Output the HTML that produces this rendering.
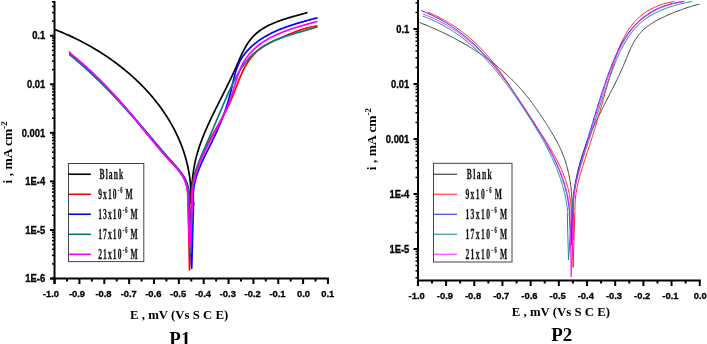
<!DOCTYPE html>
<html><head><meta charset="utf-8"><style>
html,body{margin:0;padding:0;background:#fff;width:707px;height:344px;overflow:hidden}
svg{display:block;will-change:transform}
</style></head><body>
<svg width="707" height="344" viewBox="0 0 707 344">
<rect x="0" y="0" width="707" height="344" fill="#fff"/>
<line x1="54.50" y1="1.00" x2="54.50" y2="284.00" stroke="#000" stroke-width="2"/>
<line x1="50.50" y1="278.50" x2="328.90" y2="278.50" stroke="#000" stroke-width="2"/>
<line x1="50.00" y1="35.75" x2="54.50" y2="35.75" stroke="#000" stroke-width="2"/>
<line x1="52.00" y1="21.13" x2="54.50" y2="21.13" stroke="#000" stroke-width="1.5"/>
<line x1="52.00" y1="12.59" x2="54.50" y2="12.59" stroke="#000" stroke-width="1.5"/>
<line x1="52.00" y1="6.52" x2="54.50" y2="6.52" stroke="#000" stroke-width="1.5"/>
<line x1="52.00" y1="1.82" x2="54.50" y2="1.82" stroke="#000" stroke-width="1.5"/>
<line x1="50.00" y1="84.30" x2="54.50" y2="84.30" stroke="#000" stroke-width="2"/>
<line x1="52.00" y1="69.68" x2="54.50" y2="69.68" stroke="#000" stroke-width="1.5"/>
<line x1="52.00" y1="61.14" x2="54.50" y2="61.14" stroke="#000" stroke-width="1.5"/>
<line x1="52.00" y1="55.07" x2="54.50" y2="55.07" stroke="#000" stroke-width="1.5"/>
<line x1="52.00" y1="50.37" x2="54.50" y2="50.37" stroke="#000" stroke-width="1.5"/>
<line x1="52.00" y1="46.52" x2="54.50" y2="46.52" stroke="#000" stroke-width="1.5"/>
<line x1="52.00" y1="43.27" x2="54.50" y2="43.27" stroke="#000" stroke-width="1.5"/>
<line x1="52.00" y1="40.45" x2="54.50" y2="40.45" stroke="#000" stroke-width="1.5"/>
<line x1="52.00" y1="37.97" x2="54.50" y2="37.97" stroke="#000" stroke-width="1.5"/>
<line x1="50.00" y1="132.85" x2="54.50" y2="132.85" stroke="#000" stroke-width="2"/>
<line x1="52.00" y1="118.23" x2="54.50" y2="118.23" stroke="#000" stroke-width="1.5"/>
<line x1="52.00" y1="109.69" x2="54.50" y2="109.69" stroke="#000" stroke-width="1.5"/>
<line x1="52.00" y1="103.62" x2="54.50" y2="103.62" stroke="#000" stroke-width="1.5"/>
<line x1="52.00" y1="98.92" x2="54.50" y2="98.92" stroke="#000" stroke-width="1.5"/>
<line x1="52.00" y1="95.07" x2="54.50" y2="95.07" stroke="#000" stroke-width="1.5"/>
<line x1="52.00" y1="91.82" x2="54.50" y2="91.82" stroke="#000" stroke-width="1.5"/>
<line x1="52.00" y1="89.00" x2="54.50" y2="89.00" stroke="#000" stroke-width="1.5"/>
<line x1="52.00" y1="86.52" x2="54.50" y2="86.52" stroke="#000" stroke-width="1.5"/>
<line x1="50.00" y1="181.40" x2="54.50" y2="181.40" stroke="#000" stroke-width="2"/>
<line x1="52.00" y1="166.78" x2="54.50" y2="166.78" stroke="#000" stroke-width="1.5"/>
<line x1="52.00" y1="158.24" x2="54.50" y2="158.24" stroke="#000" stroke-width="1.5"/>
<line x1="52.00" y1="152.17" x2="54.50" y2="152.17" stroke="#000" stroke-width="1.5"/>
<line x1="52.00" y1="147.47" x2="54.50" y2="147.47" stroke="#000" stroke-width="1.5"/>
<line x1="52.00" y1="143.62" x2="54.50" y2="143.62" stroke="#000" stroke-width="1.5"/>
<line x1="52.00" y1="140.37" x2="54.50" y2="140.37" stroke="#000" stroke-width="1.5"/>
<line x1="52.00" y1="137.55" x2="54.50" y2="137.55" stroke="#000" stroke-width="1.5"/>
<line x1="52.00" y1="135.07" x2="54.50" y2="135.07" stroke="#000" stroke-width="1.5"/>
<line x1="50.00" y1="229.95" x2="54.50" y2="229.95" stroke="#000" stroke-width="2"/>
<line x1="52.00" y1="215.33" x2="54.50" y2="215.33" stroke="#000" stroke-width="1.5"/>
<line x1="52.00" y1="206.79" x2="54.50" y2="206.79" stroke="#000" stroke-width="1.5"/>
<line x1="52.00" y1="200.72" x2="54.50" y2="200.72" stroke="#000" stroke-width="1.5"/>
<line x1="52.00" y1="196.02" x2="54.50" y2="196.02" stroke="#000" stroke-width="1.5"/>
<line x1="52.00" y1="192.17" x2="54.50" y2="192.17" stroke="#000" stroke-width="1.5"/>
<line x1="52.00" y1="188.92" x2="54.50" y2="188.92" stroke="#000" stroke-width="1.5"/>
<line x1="52.00" y1="186.10" x2="54.50" y2="186.10" stroke="#000" stroke-width="1.5"/>
<line x1="52.00" y1="183.62" x2="54.50" y2="183.62" stroke="#000" stroke-width="1.5"/>
<line x1="50.00" y1="278.50" x2="54.50" y2="278.50" stroke="#000" stroke-width="2"/>
<line x1="52.00" y1="263.88" x2="54.50" y2="263.88" stroke="#000" stroke-width="1.5"/>
<line x1="52.00" y1="255.34" x2="54.50" y2="255.34" stroke="#000" stroke-width="1.5"/>
<line x1="52.00" y1="249.27" x2="54.50" y2="249.27" stroke="#000" stroke-width="1.5"/>
<line x1="52.00" y1="244.57" x2="54.50" y2="244.57" stroke="#000" stroke-width="1.5"/>
<line x1="52.00" y1="240.72" x2="54.50" y2="240.72" stroke="#000" stroke-width="1.5"/>
<line x1="52.00" y1="237.47" x2="54.50" y2="237.47" stroke="#000" stroke-width="1.5"/>
<line x1="52.00" y1="234.65" x2="54.50" y2="234.65" stroke="#000" stroke-width="1.5"/>
<line x1="52.00" y1="232.17" x2="54.50" y2="232.17" stroke="#000" stroke-width="1.5"/>
<line x1="54.60" y1="278.50" x2="54.60" y2="284.00" stroke="#000" stroke-width="2"/>
<line x1="67.03" y1="278.50" x2="67.03" y2="281.50" stroke="#000" stroke-width="2"/>
<line x1="79.45" y1="278.50" x2="79.45" y2="284.00" stroke="#000" stroke-width="2"/>
<line x1="91.88" y1="278.50" x2="91.88" y2="281.50" stroke="#000" stroke-width="2"/>
<line x1="104.30" y1="278.50" x2="104.30" y2="284.00" stroke="#000" stroke-width="2"/>
<line x1="116.73" y1="278.50" x2="116.73" y2="281.50" stroke="#000" stroke-width="2"/>
<line x1="129.15" y1="278.50" x2="129.15" y2="284.00" stroke="#000" stroke-width="2"/>
<line x1="141.58" y1="278.50" x2="141.58" y2="281.50" stroke="#000" stroke-width="2"/>
<line x1="154.00" y1="278.50" x2="154.00" y2="284.00" stroke="#000" stroke-width="2"/>
<line x1="166.43" y1="278.50" x2="166.43" y2="281.50" stroke="#000" stroke-width="2"/>
<line x1="178.85" y1="278.50" x2="178.85" y2="284.00" stroke="#000" stroke-width="2"/>
<line x1="191.28" y1="278.50" x2="191.28" y2="281.50" stroke="#000" stroke-width="2"/>
<line x1="203.70" y1="278.50" x2="203.70" y2="284.00" stroke="#000" stroke-width="2"/>
<line x1="216.13" y1="278.50" x2="216.13" y2="281.50" stroke="#000" stroke-width="2"/>
<line x1="228.55" y1="278.50" x2="228.55" y2="284.00" stroke="#000" stroke-width="2"/>
<line x1="240.98" y1="278.50" x2="240.98" y2="281.50" stroke="#000" stroke-width="2"/>
<line x1="253.40" y1="278.50" x2="253.40" y2="284.00" stroke="#000" stroke-width="2"/>
<line x1="265.82" y1="278.50" x2="265.82" y2="281.50" stroke="#000" stroke-width="2"/>
<line x1="278.25" y1="278.50" x2="278.25" y2="284.00" stroke="#000" stroke-width="2"/>
<line x1="290.68" y1="278.50" x2="290.68" y2="281.50" stroke="#000" stroke-width="2"/>
<line x1="303.10" y1="278.50" x2="303.10" y2="284.00" stroke="#000" stroke-width="2"/>
<line x1="315.53" y1="278.50" x2="315.53" y2="281.50" stroke="#000" stroke-width="2"/>
<line x1="327.95" y1="278.50" x2="327.95" y2="284.00" stroke="#000" stroke-width="2"/>
<line x1="418.00" y1="0.00" x2="418.00" y2="285.70" stroke="#000" stroke-width="2"/>
<line x1="417.00" y1="280.50" x2="700.80" y2="280.50" stroke="#000" stroke-width="2"/>
<line x1="413.50" y1="29.00" x2="418.00" y2="29.00" stroke="#000" stroke-width="2"/>
<line x1="415.50" y1="12.44" x2="418.00" y2="12.44" stroke="#000" stroke-width="1.5"/>
<line x1="415.50" y1="2.76" x2="418.00" y2="2.76" stroke="#000" stroke-width="1.5"/>
<line x1="413.50" y1="84.00" x2="418.00" y2="84.00" stroke="#000" stroke-width="2"/>
<line x1="415.50" y1="67.44" x2="418.00" y2="67.44" stroke="#000" stroke-width="1.5"/>
<line x1="415.50" y1="57.76" x2="418.00" y2="57.76" stroke="#000" stroke-width="1.5"/>
<line x1="415.50" y1="50.89" x2="418.00" y2="50.89" stroke="#000" stroke-width="1.5"/>
<line x1="415.50" y1="45.56" x2="418.00" y2="45.56" stroke="#000" stroke-width="1.5"/>
<line x1="415.50" y1="41.20" x2="418.00" y2="41.20" stroke="#000" stroke-width="1.5"/>
<line x1="415.50" y1="37.52" x2="418.00" y2="37.52" stroke="#000" stroke-width="1.5"/>
<line x1="415.50" y1="34.33" x2="418.00" y2="34.33" stroke="#000" stroke-width="1.5"/>
<line x1="415.50" y1="31.52" x2="418.00" y2="31.52" stroke="#000" stroke-width="1.5"/>
<line x1="413.50" y1="139.00" x2="418.00" y2="139.00" stroke="#000" stroke-width="2"/>
<line x1="415.50" y1="122.44" x2="418.00" y2="122.44" stroke="#000" stroke-width="1.5"/>
<line x1="415.50" y1="112.76" x2="418.00" y2="112.76" stroke="#000" stroke-width="1.5"/>
<line x1="415.50" y1="105.89" x2="418.00" y2="105.89" stroke="#000" stroke-width="1.5"/>
<line x1="415.50" y1="100.56" x2="418.00" y2="100.56" stroke="#000" stroke-width="1.5"/>
<line x1="415.50" y1="96.20" x2="418.00" y2="96.20" stroke="#000" stroke-width="1.5"/>
<line x1="415.50" y1="92.52" x2="418.00" y2="92.52" stroke="#000" stroke-width="1.5"/>
<line x1="415.50" y1="89.33" x2="418.00" y2="89.33" stroke="#000" stroke-width="1.5"/>
<line x1="415.50" y1="86.52" x2="418.00" y2="86.52" stroke="#000" stroke-width="1.5"/>
<line x1="413.50" y1="194.00" x2="418.00" y2="194.00" stroke="#000" stroke-width="2"/>
<line x1="415.50" y1="177.44" x2="418.00" y2="177.44" stroke="#000" stroke-width="1.5"/>
<line x1="415.50" y1="167.76" x2="418.00" y2="167.76" stroke="#000" stroke-width="1.5"/>
<line x1="415.50" y1="160.89" x2="418.00" y2="160.89" stroke="#000" stroke-width="1.5"/>
<line x1="415.50" y1="155.56" x2="418.00" y2="155.56" stroke="#000" stroke-width="1.5"/>
<line x1="415.50" y1="151.20" x2="418.00" y2="151.20" stroke="#000" stroke-width="1.5"/>
<line x1="415.50" y1="147.52" x2="418.00" y2="147.52" stroke="#000" stroke-width="1.5"/>
<line x1="415.50" y1="144.33" x2="418.00" y2="144.33" stroke="#000" stroke-width="1.5"/>
<line x1="415.50" y1="141.52" x2="418.00" y2="141.52" stroke="#000" stroke-width="1.5"/>
<line x1="413.50" y1="249.00" x2="418.00" y2="249.00" stroke="#000" stroke-width="2"/>
<line x1="415.50" y1="232.44" x2="418.00" y2="232.44" stroke="#000" stroke-width="1.5"/>
<line x1="415.50" y1="222.76" x2="418.00" y2="222.76" stroke="#000" stroke-width="1.5"/>
<line x1="415.50" y1="215.89" x2="418.00" y2="215.89" stroke="#000" stroke-width="1.5"/>
<line x1="415.50" y1="210.56" x2="418.00" y2="210.56" stroke="#000" stroke-width="1.5"/>
<line x1="415.50" y1="206.20" x2="418.00" y2="206.20" stroke="#000" stroke-width="1.5"/>
<line x1="415.50" y1="202.52" x2="418.00" y2="202.52" stroke="#000" stroke-width="1.5"/>
<line x1="415.50" y1="199.33" x2="418.00" y2="199.33" stroke="#000" stroke-width="1.5"/>
<line x1="415.50" y1="196.52" x2="418.00" y2="196.52" stroke="#000" stroke-width="1.5"/>
<line x1="415.50" y1="277.76" x2="418.00" y2="277.76" stroke="#000" stroke-width="1.5"/>
<line x1="415.50" y1="270.89" x2="418.00" y2="270.89" stroke="#000" stroke-width="1.5"/>
<line x1="415.50" y1="265.56" x2="418.00" y2="265.56" stroke="#000" stroke-width="1.5"/>
<line x1="415.50" y1="261.20" x2="418.00" y2="261.20" stroke="#000" stroke-width="1.5"/>
<line x1="415.50" y1="257.52" x2="418.00" y2="257.52" stroke="#000" stroke-width="1.5"/>
<line x1="415.50" y1="254.33" x2="418.00" y2="254.33" stroke="#000" stroke-width="1.5"/>
<line x1="415.50" y1="251.52" x2="418.00" y2="251.52" stroke="#000" stroke-width="1.5"/>
<line x1="417.90" y1="280.50" x2="417.90" y2="286.00" stroke="#000" stroke-width="2"/>
<line x1="431.99" y1="280.50" x2="431.99" y2="283.50" stroke="#000" stroke-width="2"/>
<line x1="446.08" y1="280.50" x2="446.08" y2="286.00" stroke="#000" stroke-width="2"/>
<line x1="460.18" y1="280.50" x2="460.18" y2="283.50" stroke="#000" stroke-width="2"/>
<line x1="474.27" y1="280.50" x2="474.27" y2="286.00" stroke="#000" stroke-width="2"/>
<line x1="488.36" y1="280.50" x2="488.36" y2="283.50" stroke="#000" stroke-width="2"/>
<line x1="502.45" y1="280.50" x2="502.45" y2="286.00" stroke="#000" stroke-width="2"/>
<line x1="516.55" y1="280.50" x2="516.55" y2="283.50" stroke="#000" stroke-width="2"/>
<line x1="530.64" y1="280.50" x2="530.64" y2="286.00" stroke="#000" stroke-width="2"/>
<line x1="544.73" y1="280.50" x2="544.73" y2="283.50" stroke="#000" stroke-width="2"/>
<line x1="558.82" y1="280.50" x2="558.82" y2="286.00" stroke="#000" stroke-width="2"/>
<line x1="572.92" y1="280.50" x2="572.92" y2="283.50" stroke="#000" stroke-width="2"/>
<line x1="587.01" y1="280.50" x2="587.01" y2="286.00" stroke="#000" stroke-width="2"/>
<line x1="601.10" y1="280.50" x2="601.10" y2="283.50" stroke="#000" stroke-width="2"/>
<line x1="615.19" y1="280.50" x2="615.19" y2="286.00" stroke="#000" stroke-width="2"/>
<line x1="629.29" y1="280.50" x2="629.29" y2="283.50" stroke="#000" stroke-width="2"/>
<line x1="643.38" y1="280.50" x2="643.38" y2="286.00" stroke="#000" stroke-width="2"/>
<line x1="657.47" y1="280.50" x2="657.47" y2="283.50" stroke="#000" stroke-width="2"/>
<line x1="671.56" y1="280.50" x2="671.56" y2="286.00" stroke="#000" stroke-width="2"/>
<line x1="685.66" y1="280.50" x2="685.66" y2="283.50" stroke="#000" stroke-width="2"/>
<line x1="699.75" y1="280.50" x2="699.75" y2="286.00" stroke="#000" stroke-width="2"/>
<text transform="translate(45.2,39.45) scale(0.1,0.11200000000000002)" font-size="94.0" text-anchor="end" font-family="'Liberation Sans', sans-serif" font-weight="bold" stroke="#000" stroke-width="3">0.1</text>
<text transform="translate(45.2,88.0) scale(0.1,0.11200000000000002)" font-size="94.0" text-anchor="end" font-family="'Liberation Sans', sans-serif" font-weight="bold" stroke="#000" stroke-width="3">0.01</text>
<text transform="translate(45.2,136.54999999999998) scale(0.1,0.11200000000000002)" font-size="94.0" text-anchor="end" font-family="'Liberation Sans', sans-serif" font-weight="bold" stroke="#000" stroke-width="3">0.001</text>
<text transform="translate(45.2,185.09999999999997) scale(0.1,0.11200000000000002)" font-size="94.0" text-anchor="end" font-family="'Liberation Sans', sans-serif" font-weight="bold" stroke="#000" stroke-width="3">1E-4</text>
<text transform="translate(45.2,233.64999999999998) scale(0.1,0.11200000000000002)" font-size="94.0" text-anchor="end" font-family="'Liberation Sans', sans-serif" font-weight="bold" stroke="#000" stroke-width="3">1E-5</text>
<text transform="translate(45.2,282.2) scale(0.1,0.11200000000000002)" font-size="94.0" text-anchor="end" font-family="'Liberation Sans', sans-serif" font-weight="bold" stroke="#000" stroke-width="3">1E-6</text>
<text transform="translate(409.3,32.7) scale(0.1,0.11200000000000002)" font-size="94.0" text-anchor="end" font-family="'Liberation Sans', sans-serif" font-weight="bold" stroke="#000" stroke-width="3">0.1</text>
<text transform="translate(409.3,87.7) scale(0.1,0.11200000000000002)" font-size="94.0" text-anchor="end" font-family="'Liberation Sans', sans-serif" font-weight="bold" stroke="#000" stroke-width="3">0.01</text>
<text transform="translate(409.3,142.7) scale(0.1,0.11200000000000002)" font-size="94.0" text-anchor="end" font-family="'Liberation Sans', sans-serif" font-weight="bold" stroke="#000" stroke-width="3">0.001</text>
<text transform="translate(409.3,197.7) scale(0.1,0.11200000000000002)" font-size="94.0" text-anchor="end" font-family="'Liberation Sans', sans-serif" font-weight="bold" stroke="#000" stroke-width="3">1E-4</text>
<text transform="translate(409.3,252.7) scale(0.1,0.11200000000000002)" font-size="94.0" text-anchor="end" font-family="'Liberation Sans', sans-serif" font-weight="bold" stroke="#000" stroke-width="3">1E-5</text>
<text transform="translate(51,297.1) scale(0.1,0.10200000000000001)" font-size="94.0" text-anchor="middle" font-family="'Liberation Sans', sans-serif" font-weight="bold" stroke="#000" stroke-width="3">-1.0</text>
<text transform="translate(77,297.1) scale(0.1,0.10200000000000001)" font-size="94.0" text-anchor="middle" font-family="'Liberation Sans', sans-serif" font-weight="bold" stroke="#000" stroke-width="3">-0.9</text>
<text transform="translate(103.5,297.1) scale(0.1,0.10200000000000001)" font-size="94.0" text-anchor="middle" font-family="'Liberation Sans', sans-serif" font-weight="bold" stroke="#000" stroke-width="3">-0.8</text>
<text transform="translate(128.75,297.1) scale(0.1,0.10200000000000001)" font-size="94.0" text-anchor="middle" font-family="'Liberation Sans', sans-serif" font-weight="bold" stroke="#000" stroke-width="3">-0.7</text>
<text transform="translate(153.3,297.1) scale(0.1,0.10200000000000001)" font-size="94.0" text-anchor="middle" font-family="'Liberation Sans', sans-serif" font-weight="bold" stroke="#000" stroke-width="3">-0.6</text>
<text transform="translate(178.1,297.1) scale(0.1,0.10200000000000001)" font-size="94.0" text-anchor="middle" font-family="'Liberation Sans', sans-serif" font-weight="bold" stroke="#000" stroke-width="3">-0.5</text>
<text transform="translate(203,297.1) scale(0.1,0.10200000000000001)" font-size="94.0" text-anchor="middle" font-family="'Liberation Sans', sans-serif" font-weight="bold" stroke="#000" stroke-width="3">-0.4</text>
<text transform="translate(227.8,297.1) scale(0.1,0.10200000000000001)" font-size="94.0" text-anchor="middle" font-family="'Liberation Sans', sans-serif" font-weight="bold" stroke="#000" stroke-width="3">-0.3</text>
<text transform="translate(252.6,297.1) scale(0.1,0.10200000000000001)" font-size="94.0" text-anchor="middle" font-family="'Liberation Sans', sans-serif" font-weight="bold" stroke="#000" stroke-width="3">-0.2</text>
<text transform="translate(277.5,297.1) scale(0.1,0.10200000000000001)" font-size="94.0" text-anchor="middle" font-family="'Liberation Sans', sans-serif" font-weight="bold" stroke="#000" stroke-width="3">-0.1</text>
<text transform="translate(303.5,297.1) scale(0.1,0.10200000000000001)" font-size="94.0" text-anchor="middle" font-family="'Liberation Sans', sans-serif" font-weight="bold" stroke="#000" stroke-width="3">0.0</text>
<text transform="translate(327.8,297.1) scale(0.1,0.10200000000000001)" font-size="94.0" text-anchor="middle" font-family="'Liberation Sans', sans-serif" font-weight="bold" stroke="#000" stroke-width="3">0.1</text>
<text transform="translate(416.7,298.7) scale(0.1,0.10400000000000001)" font-size="94.0" text-anchor="middle" font-family="'Liberation Sans', sans-serif" font-weight="bold" stroke="#000" stroke-width="3">-1.0</text>
<text transform="translate(444.885,298.7) scale(0.1,0.10400000000000001)" font-size="94.0" text-anchor="middle" font-family="'Liberation Sans', sans-serif" font-weight="bold" stroke="#000" stroke-width="3">-0.9</text>
<text transform="translate(473.07,298.7) scale(0.1,0.10400000000000001)" font-size="94.0" text-anchor="middle" font-family="'Liberation Sans', sans-serif" font-weight="bold" stroke="#000" stroke-width="3">-0.8</text>
<text transform="translate(501.255,298.7) scale(0.1,0.10400000000000001)" font-size="94.0" text-anchor="middle" font-family="'Liberation Sans', sans-serif" font-weight="bold" stroke="#000" stroke-width="3">-0.7</text>
<text transform="translate(529.4399999999999,298.7) scale(0.1,0.10400000000000001)" font-size="94.0" text-anchor="middle" font-family="'Liberation Sans', sans-serif" font-weight="bold" stroke="#000" stroke-width="3">-0.6</text>
<text transform="translate(557.6249999999999,298.7) scale(0.1,0.10400000000000001)" font-size="94.0" text-anchor="middle" font-family="'Liberation Sans', sans-serif" font-weight="bold" stroke="#000" stroke-width="3">-0.5</text>
<text transform="translate(585.81,298.7) scale(0.1,0.10400000000000001)" font-size="94.0" text-anchor="middle" font-family="'Liberation Sans', sans-serif" font-weight="bold" stroke="#000" stroke-width="3">-0.4</text>
<text transform="translate(613.9949999999999,298.7) scale(0.1,0.10400000000000001)" font-size="94.0" text-anchor="middle" font-family="'Liberation Sans', sans-serif" font-weight="bold" stroke="#000" stroke-width="3">-0.3</text>
<text transform="translate(642.18,298.7) scale(0.1,0.10400000000000001)" font-size="94.0" text-anchor="middle" font-family="'Liberation Sans', sans-serif" font-weight="bold" stroke="#000" stroke-width="3">-0.2</text>
<text transform="translate(670.3649999999999,298.7) scale(0.1,0.10400000000000001)" font-size="94.0" text-anchor="middle" font-family="'Liberation Sans', sans-serif" font-weight="bold" stroke="#000" stroke-width="3">-0.1</text>
<text transform="translate(700.25,298.7) scale(0.1,0.10400000000000001)" font-size="94.0" text-anchor="middle" font-family="'Liberation Sans', sans-serif" font-weight="bold" stroke="#000" stroke-width="3">0.0</text>
<text transform="translate(11.5,152.3) rotate(-90)" font-size="13.5" text-anchor="middle" font-family="'Liberation Serif', serif" font-weight="bold">i , mA cm<tspan dy="-5" font-size="9">-2</tspan></text>
<text transform="translate(376.0,139) rotate(-90)" font-size="13.5" text-anchor="middle" font-family="'Liberation Serif', serif" font-weight="bold">i , mA cm<tspan dy="-5" font-size="9">-2</tspan></text>
<text x="130.0" y="318.7" font-size="12.8" font-family="'Liberation Serif', serif" font-weight="bold">E , mV (Vs S C E)</text>
<text x="511.8" y="315.8" font-size="12.8" font-family="'Liberation Serif', serif" font-weight="bold">E , mV (Vs S C E)</text>
<text x="179.9" y="344.5" font-size="19" text-anchor="middle" font-family="'Liberation Serif', serif" font-weight="bold" >P1</text>
<text x="561.8" y="340.9" font-size="19" text-anchor="middle" font-family="'Liberation Serif', serif" font-weight="bold" >P2</text>
<rect x="68.5" y="163.5" width="75.30000000000001" height="98.10000000000002" fill="none" stroke="#444" stroke-width="1"/>
<line x1="68.50" y1="174.25" x2="90.90" y2="174.25" stroke="#000000" stroke-width="1.6"/>
<text transform="translate(99.5,179.25) scale(0.55,1)" font-size="13.8" letter-spacing="2.0" font-family="'Liberation Serif', serif" font-weight="bold" fill="#111" stroke="#111" stroke-width="0.25">Blank</text>
<line x1="68.50" y1="194.25" x2="90.90" y2="194.25" stroke="#ff0000" stroke-width="1.6"/>
<text transform="translate(98.2,199.25) scale(0.55,1)" font-size="13.8" letter-spacing="2.0" font-family="'Liberation Serif', serif" font-weight="bold" fill="#111" stroke="#111" stroke-width="0.25">9x10<tspan dy="-6" font-size="8">-6</tspan><tspan dy="6" dx="3.5">M</tspan></text>
<line x1="68.50" y1="214.25" x2="90.90" y2="214.25" stroke="#0000ff" stroke-width="1.6"/>
<text transform="translate(98.2,219.25) scale(0.55,1)" font-size="13.8" letter-spacing="2.0" font-family="'Liberation Serif', serif" font-weight="bold" fill="#111" stroke="#111" stroke-width="0.25">13x10<tspan dy="-6" font-size="8">-6</tspan><tspan dy="6" dx="3.5">M</tspan></text>
<line x1="68.50" y1="234.25" x2="90.90" y2="234.25" stroke="#008080" stroke-width="1.6"/>
<text transform="translate(98.2,239.25) scale(0.55,1)" font-size="13.8" letter-spacing="2.0" font-family="'Liberation Serif', serif" font-weight="bold" fill="#111" stroke="#111" stroke-width="0.25">17x10<tspan dy="-6" font-size="8">-6</tspan><tspan dy="6" dx="3.5">M</tspan></text>
<line x1="68.50" y1="254.25" x2="90.90" y2="254.25" stroke="#ff00ff" stroke-width="1.6"/>
<text transform="translate(98.2,259.25) scale(0.55,1)" font-size="13.8" letter-spacing="2.0" font-family="'Liberation Serif', serif" font-weight="bold" fill="#111" stroke="#111" stroke-width="0.25">21x10<tspan dy="-6" font-size="8">-6</tspan><tspan dy="6" dx="3.5">M</tspan></text>
<rect x="433.5" y="163.3" width="78.5" height="98.69999999999999" fill="none" stroke="#444" stroke-width="1"/>
<line x1="433.50" y1="174.25" x2="457.00" y2="174.25" stroke="#333333" stroke-width="1.1"/>
<text transform="translate(466.7,179.25) scale(0.55,1)" font-size="13.8" letter-spacing="2.6" font-family="'Liberation Serif', serif" font-weight="bold" fill="#111" stroke="#111" stroke-width="0.25">Blank</text>
<line x1="433.50" y1="194.25" x2="457.00" y2="194.25" stroke="#ff3030" stroke-width="1.1"/>
<text transform="translate(465.4,199.25) scale(0.55,1)" font-size="13.8" letter-spacing="2.6" font-family="'Liberation Serif', serif" font-weight="bold" fill="#111" stroke="#111" stroke-width="0.25">9x10<tspan dy="-6" font-size="8">-6</tspan><tspan dy="6" dx="3.5">M</tspan></text>
<line x1="433.50" y1="214.25" x2="457.00" y2="214.25" stroke="#3030ff" stroke-width="1.1"/>
<text transform="translate(465.4,219.25) scale(0.55,1)" font-size="13.8" letter-spacing="2.6" font-family="'Liberation Serif', serif" font-weight="bold" fill="#111" stroke="#111" stroke-width="0.25">13x10<tspan dy="-6" font-size="8">-6</tspan><tspan dy="6" dx="3.5">M</tspan></text>
<line x1="433.50" y1="234.25" x2="457.00" y2="234.25" stroke="#209090" stroke-width="1.1"/>
<text transform="translate(465.4,239.25) scale(0.55,1)" font-size="13.8" letter-spacing="2.6" font-family="'Liberation Serif', serif" font-weight="bold" fill="#111" stroke="#111" stroke-width="0.25">17x10<tspan dy="-6" font-size="8">-6</tspan><tspan dy="6" dx="3.5">M</tspan></text>
<line x1="433.50" y1="254.25" x2="457.00" y2="254.25" stroke="#ff30ff" stroke-width="1.1"/>
<text transform="translate(465.4,259.25) scale(0.55,1)" font-size="13.8" letter-spacing="2.6" font-family="'Liberation Serif', serif" font-weight="bold" fill="#111" stroke="#111" stroke-width="0.25">21x10<tspan dy="-6" font-size="8">-6</tspan><tspan dy="6" dx="3.5">M</tspan></text>
<path d="M55.00,29.40 L56.35,30.15 L57.44,30.58 L58.53,31.01 L59.62,31.45 L60.72,31.89 L61.81,32.34 L62.90,32.80 L63.99,33.26 L65.07,33.72 L66.16,34.19 L67.25,34.67 L68.33,35.15 L69.42,35.64 L70.50,36.14 L71.58,36.64 L72.67,37.14 L73.75,37.65 L74.83,38.17 L75.90,38.69 L76.98,39.22 L78.05,39.75 L79.13,40.29 L80.20,40.84 L81.27,41.39 L82.34,41.94 L83.41,42.50 L84.47,43.07 L85.53,43.64 L86.59,44.22 L87.65,44.80 L88.71,45.39 L89.77,45.98 L90.82,46.58 L91.87,47.18 L92.92,47.79 L93.96,48.41 L95.01,49.03 L96.05,49.65 L97.09,50.28 L98.12,50.92 L99.16,51.56 L100.19,52.21 L101.22,52.86 L102.24,53.52 L103.26,54.18 L104.28,54.84 L105.30,55.52 L106.31,56.19 L107.33,56.88 L108.33,57.57 L109.34,58.26 L110.34,58.96 L111.34,59.66 L112.33,60.37 L113.32,61.08 L114.31,61.80 L115.29,62.53 L116.27,63.25 L117.25,63.99 L118.22,64.73 L119.19,65.47 L120.16,66.22 L121.12,66.97 L122.07,67.73 L123.03,68.50 L123.98,69.26 L124.92,70.04 L125.86,70.82 L126.80,71.60 L127.73,72.39 L128.66,73.18 L129.58,73.98 L130.50,74.78 L131.42,75.59 L132.33,76.40 L133.23,77.22 L134.13,78.04 L135.03,78.87 L135.92,79.70 L136.80,80.53 L137.68,81.38 L138.56,82.22 L139.43,83.07 L140.30,83.93 L141.16,84.79 L142.01,85.65 L142.86,86.52 L143.71,87.39 L144.55,88.27 L145.38,89.15 L146.21,90.04 L147.03,90.93 L147.85,91.83 L148.66,92.73 L149.46,93.64 L150.26,94.55 L151.06,95.46 L151.85,96.38 L152.63,97.31 L153.40,98.24 L154.17,99.17 L154.94,100.11 L155.69,101.05 L156.44,101.99 L157.19,102.94 L157.93,103.90 L158.66,104.86 L159.38,105.82 L160.10,106.79 L160.81,107.76 L161.52,108.74 L162.22,109.72 L162.91,110.70 L163.59,111.69 L164.27,112.69 L164.94,113.69 L165.60,114.69 L166.26,115.70 L166.91,116.71 L167.55,117.72 L168.19,118.74 L168.81,119.76 L169.43,120.79 L170.04,121.82 L170.65,122.86 L171.25,123.90 L171.84,124.94 L172.42,125.99 L172.99,127.04 L173.56,128.10 L174.12,129.16 L174.67,130.23 L175.21,131.29 L175.75,132.37 L176.27,133.44 L176.79,134.52 L177.30,135.61 L177.80,136.70 L178.29,137.79 L178.78,138.89 L179.26,139.99 L179.72,141.09 L180.18,142.20 L180.63,143.31 L181.08,144.43 L181.51,145.55 L181.93,146.67 L182.35,147.80 L182.76,148.93 L183.15,150.06 L183.54,151.20 L183.92,152.35 L184.29,153.49 L184.65,154.64 L185.00,155.80 L185.35,156.95 L185.68,158.12 L186.00,159.28 L186.32,160.45 L186.62,161.62 L186.92,162.80 L187.20,163.98 L187.48,165.16 L187.74,166.35 L188.00,167.54 L188.24,168.73 L188.48,169.93 L188.71,171.13 L188.92,172.34 L189.13,173.54 L189.32,174.76 L189.51,175.97 L189.68,177.19 L189.85,178.41 L190.00,179.64 L190.14,180.87 L190.28,182.10 L190.40,183.34 L190.51,184.58 L190.61,185.82 L190.70,187.07 L190.78,188.32 L190.85,189.57 L190.90,190.83 L190.95,192.09 L190.70,193.00 L191.00,203.00 L191.20,193.00 L191.25,191.81 L191.36,190.62 L191.48,189.42 L191.59,188.23 L191.70,187.03 L191.82,185.83 L191.93,184.63 L192.05,183.42 L192.16,182.22 L192.29,181.01 L192.41,179.81 L192.54,178.60 L192.67,177.40 L192.81,176.19 L192.96,174.99 L193.11,173.79 L193.27,172.58 L193.44,171.38 L193.61,170.18 L193.80,168.98 L193.99,167.79 L194.20,166.60 L194.41,165.41 L194.64,164.22 L194.88,163.04 L195.13,161.85 L195.39,160.68 L195.66,159.50 L195.95,158.33 L196.24,157.16 L196.54,156.00 L196.86,154.83 L197.18,153.68 L197.52,152.52 L197.86,151.36 L198.21,150.21 L198.58,149.06 L198.95,147.92 L199.32,146.78 L199.71,145.64 L200.11,144.50 L200.51,143.36 L200.92,142.23 L201.34,141.10 L201.76,139.97 L202.19,138.85 L202.63,137.72 L203.07,136.60 L203.52,135.49 L203.98,134.37 L204.44,133.26 L204.91,132.15 L205.38,131.04 L205.86,129.93 L206.34,128.83 L206.82,127.72 L207.31,126.62 L207.81,125.52 L208.30,124.43 L208.80,123.33 L209.31,122.24 L209.82,121.15 L210.33,120.06 L210.84,118.97 L211.35,117.89 L211.87,116.81 L212.39,115.72 L212.91,114.64 L213.44,113.56 L213.96,112.48 L214.49,111.41 L215.02,110.33 L215.55,109.25 L216.09,108.18 L216.62,107.10 L217.16,106.03 L217.69,104.96 L218.23,103.89 L218.77,102.81 L219.31,101.74 L219.84,100.67 L220.38,99.60 L220.92,98.53 L221.46,97.45 L222.00,96.38 L222.54,95.31 L223.08,94.24 L223.62,93.16 L224.16,92.09 L224.70,91.01 L225.24,89.94 L225.77,88.86 L226.31,87.78 L226.84,86.71 L227.38,85.63 L227.91,84.55 L228.44,83.46 L228.97,82.38 L229.49,81.29 L230.02,80.21 L230.54,79.12 L231.06,78.03 L231.58,76.94 L232.10,75.84 L232.61,74.74 L233.12,73.65 L233.63,72.54 L234.13,71.44 L234.63,70.34 L235.13,69.23 L235.63,68.12 L236.12,67.00 L236.61,65.89 L237.10,64.77 L237.58,63.65 L238.07,62.53 L238.56,61.41 L239.04,60.30 L239.53,59.18 L240.03,58.07 L240.53,56.96 L241.03,55.86 L241.54,54.76 L242.06,53.67 L242.58,52.58 L243.12,51.51 L243.66,50.44 L244.22,49.38 L244.78,48.33 L245.36,47.29 L245.96,46.26 L246.56,45.25 L247.19,44.24 L247.83,43.26 L248.48,42.28 L249.16,41.32 L249.85,40.38 L250.57,39.45 L251.30,38.54 L252.06,37.65 L252.84,36.78 L253.65,35.93 L254.48,35.10 L255.33,34.29 L256.21,33.50 L257.11,32.74 L258.04,31.99 L258.99,31.26 L259.96,30.56 L260.95,29.87 L261.95,29.20 L262.98,28.55 L264.02,27.92 L265.08,27.30 L266.16,26.70 L267.24,26.12 L268.34,25.56 L269.46,25.01 L270.58,24.47 L271.71,23.95 L272.85,23.45 L274.00,22.96 L275.16,22.48 L276.32,22.02 L277.48,21.57 L278.65,21.13 L279.83,20.70 L281.00,20.29 L282.18,19.89 L283.35,19.50 L284.52,19.11 L285.69,18.74 L286.86,18.38 L288.03,18.03 L289.19,17.68 L290.35,17.34 L291.51,17.01 L292.67,16.68 L293.82,16.36 L294.97,16.04 L296.11,15.72 L297.25,15.41 L298.39,15.09 L299.52,14.78 L300.65,14.47 L301.78,14.16 L302.89,13.85 L304.01,13.53 L305.12,13.21 L306.22,12.89 L307.50,12.50" fill="none" stroke="#000" stroke-width="1.7" stroke-linejoin="round" stroke-linecap="butt"/>
<path d="M69.80,52.20 L69.91,53.60 L70.86,54.36 L71.80,55.12 L72.73,55.88 L73.66,56.65 L74.59,57.42 L75.52,58.19 L76.45,58.96 L77.37,59.74 L78.29,60.53 L79.20,61.31 L80.12,62.10 L81.03,62.89 L81.94,63.68 L82.84,64.48 L83.74,65.28 L84.64,66.08 L85.54,66.89 L86.43,67.69 L87.33,68.50 L88.22,69.32 L89.10,70.13 L89.99,70.95 L90.87,71.77 L91.75,72.60 L92.63,73.42 L93.50,74.25 L94.37,75.09 L95.24,75.92 L96.11,76.76 L96.97,77.60 L97.84,78.44 L98.70,79.28 L99.55,80.13 L100.41,80.98 L101.26,81.83 L102.11,82.68 L102.96,83.54 L103.81,84.40 L104.65,85.26 L105.49,86.12 L106.33,86.99 L107.17,87.85 L108.00,88.72 L108.84,89.59 L109.67,90.47 L110.50,91.34 L111.32,92.22 L112.15,93.10 L112.97,93.98 L113.79,94.87 L114.61,95.75 L115.42,96.64 L116.24,97.53 L117.05,98.42 L117.86,99.31 L118.67,100.21 L119.48,101.11 L120.28,102.01 L121.08,102.91 L121.88,103.81 L122.68,104.71 L123.48,105.62 L124.28,106.53 L125.07,107.44 L125.86,108.35 L126.65,109.26 L127.44,110.17 L128.23,111.09 L129.01,112.01 L129.80,112.92 L130.58,113.84 L131.36,114.76 L132.14,115.69 L132.91,116.61 L133.69,117.54 L134.46,118.46 L135.23,119.39 L136.00,120.32 L136.77,121.25 L137.54,122.18 L138.31,123.12 L139.07,124.05 L139.84,124.98 L140.60,125.92 L141.37,126.85 L142.13,127.79 L142.89,128.72 L143.66,129.66 L144.42,130.60 L145.18,131.53 L145.94,132.47 L146.71,133.41 L147.47,134.34 L148.23,135.28 L149.00,136.22 L149.76,137.15 L150.52,138.09 L151.29,139.02 L152.06,139.95 L152.82,140.89 L153.59,141.82 L154.36,142.75 L155.13,143.68 L155.90,144.61 L156.68,145.53 L157.45,146.46 L158.23,147.38 L159.01,148.31 L159.79,149.23 L160.57,150.15 L161.36,151.06 L162.15,151.98 L162.94,152.89 L163.73,153.81 L164.52,154.71 L165.32,155.62 L166.12,156.53 L166.93,157.43 L167.73,158.33 L168.54,159.23 L169.36,160.12 L170.17,161.01 L170.99,161.90 L171.82,162.79 L172.64,163.67 L173.46,164.56 L174.28,165.44 L175.09,166.33 L175.90,167.22 L176.69,168.12 L177.48,169.03 L178.24,169.94 L178.99,170.87 L179.72,171.80 L180.43,172.75 L181.12,173.71 L181.78,174.68 L182.41,175.67 L183.02,176.68 L183.59,177.71 L184.12,178.76 L184.62,179.82 L185.08,180.91 L185.51,182.02 L185.90,183.15 L186.26,184.30 L186.59,185.46 L186.88,186.63 L187.15,187.82 L187.38,189.02 L187.58,190.24 L187.76,191.46 L187.90,192.69 L188.02,193.93 L188.12,195.18 L188.18,196.43 L188.23,197.69 L188.24,198.95 L188.24,200.21 L188.21,201.48 L188.17,202.74 L188.10,204.00 L188.01,205.26 L188.20,206.30 L189.50,270.00 L191.25,206.00 L191.38,205.06 L191.30,203.76 L191.23,202.46 L191.19,201.17 L191.16,199.89 L191.15,198.61 L191.17,197.35 L191.20,196.09 L191.25,194.84 L191.32,193.59 L191.40,192.35 L191.51,191.12 L191.63,189.90 L191.77,188.68 L191.92,187.47 L192.09,186.27 L192.28,185.07 L192.48,183.87 L192.70,182.69 L192.93,181.51 L193.18,180.33 L193.44,179.16 L193.72,178.00 L194.01,176.84 L194.31,175.68 L194.63,174.53 L194.96,173.39 L195.31,172.25 L195.66,171.12 L196.03,169.99 L196.41,168.86 L196.80,167.74 L197.20,166.62 L197.61,165.51 L198.04,164.40 L198.47,163.29 L198.91,162.19 L199.37,161.09 L199.83,159.99 L200.30,158.90 L200.78,157.81 L201.27,156.73 L201.76,155.64 L202.27,154.56 L202.78,153.48 L203.30,152.41 L203.82,151.33 L204.35,150.26 L204.89,149.19 L205.44,148.13 L205.99,147.06 L206.54,146.00 L207.10,144.93 L207.66,143.87 L208.23,142.81 L208.81,141.76 L209.38,140.70 L209.96,139.64 L210.55,138.59 L211.13,137.53 L211.72,136.47 L212.31,135.42 L212.90,134.37 L213.50,133.31 L214.09,132.26 L214.69,131.20 L215.29,130.15 L215.88,129.09 L216.48,128.04 L217.08,126.98 L217.68,125.93 L218.27,124.87 L218.87,123.81 L219.46,122.75 L220.05,121.69 L220.64,120.62 L221.23,119.56 L221.81,118.49 L222.39,117.43 L222.97,116.36 L223.55,115.28 L224.12,114.21 L224.68,113.13 L225.24,112.05 L225.80,110.97 L226.35,109.89 L226.90,108.80 L227.44,107.71 L227.97,106.62 L228.50,105.52 L229.02,104.42 L229.53,103.32 L230.04,102.21 L230.54,101.10 L231.03,99.98 L231.51,98.86 L231.99,97.74 L232.46,96.61 L232.92,95.49 L233.37,94.35 L233.82,93.22 L234.27,92.08 L234.71,90.95 L235.15,89.81 L235.59,88.68 L236.02,87.54 L236.46,86.41 L236.89,85.27 L237.33,84.14 L237.77,83.01 L238.21,81.89 L238.65,80.77 L239.10,79.65 L239.55,78.53 L240.01,77.43 L240.47,76.32 L240.94,75.23 L241.42,74.13 L241.91,73.05 L242.41,71.98 L242.91,70.91 L243.43,69.85 L243.96,68.80 L244.50,67.76 L245.06,66.72 L245.63,65.70 L246.21,64.69 L246.81,63.70 L247.42,62.71 L248.05,61.74 L248.70,60.78 L249.37,59.83 L250.06,58.89 L250.76,57.98 L251.49,57.07 L252.24,56.18 L253.01,55.31 L253.80,54.45 L254.62,53.61 L255.46,52.79 L256.33,51.99 L257.22,51.20 L258.14,50.44 L259.08,49.69 L260.05,48.96 L261.04,48.24 L262.05,47.55 L263.08,46.86 L264.13,46.20 L265.20,45.55 L266.28,44.91 L267.37,44.29 L268.48,43.68 L269.59,43.08 L270.72,42.49 L271.86,41.92 L273.00,41.36 L274.14,40.80 L275.30,40.26 L276.45,39.73 L277.60,39.20 L278.76,38.69 L279.91,38.18 L281.06,37.68 L282.20,37.18 L283.34,36.69 L284.47,36.21 L285.60,35.73 L286.71,35.25 L287.82,34.79 L288.93,34.33 L290.03,33.87 L291.13,33.42 L292.22,32.98 L293.31,32.55 L294.41,32.13 L295.50,31.71 L296.59,31.30 L297.69,30.90 L298.79,30.52 L299.89,30.14 L301.00,29.77 L302.11,29.41 L303.22,29.06 L304.35,28.73 L305.48,28.40 L306.62,28.09 L307.77,27.79 L308.93,27.50 L310.11,27.23 L311.29,26.97 L312.49,26.72 L313.70,26.49 L314.93,26.27 L316.17,26.07 L317.50,25.90" fill="none" stroke="#ff0000" stroke-width="1.7" stroke-linejoin="round" stroke-linecap="butt"/>
<path d="M69.90,52.70 L70.03,54.09 L70.97,54.85 L71.91,55.62 L72.84,56.39 L73.77,57.16 L74.70,57.94 L75.63,58.71 L76.55,59.50 L77.47,60.28 L78.39,61.07 L79.31,61.86 L80.22,62.65 L81.13,63.44 L82.04,64.24 L82.95,65.04 L83.85,65.84 L84.75,66.65 L85.65,67.46 L86.55,68.27 L87.44,69.08 L88.33,69.90 L89.22,70.72 L90.11,71.54 L90.99,72.36 L91.88,73.18 L92.76,74.01 L93.64,74.84 L94.51,75.67 L95.39,76.51 L96.26,77.35 L97.13,78.19 L97.99,79.03 L98.86,79.87 L99.72,80.72 L100.58,81.56 L101.44,82.41 L102.30,83.27 L103.15,84.12 L104.01,84.98 L104.86,85.84 L105.71,86.70 L106.56,87.56 L107.40,88.42 L108.24,89.29 L109.09,90.16 L109.93,91.03 L110.76,91.90 L111.60,92.77 L112.43,93.65 L113.27,94.53 L114.10,95.41 L114.93,96.29 L115.75,97.17 L116.58,98.05 L117.40,98.94 L118.22,99.83 L119.04,100.72 L119.86,101.61 L120.68,102.50 L121.50,103.40 L122.31,104.29 L123.12,105.19 L123.93,106.09 L124.74,106.99 L125.55,107.89 L126.36,108.79 L127.16,109.70 L127.96,110.60 L128.77,111.51 L129.57,112.42 L130.37,113.33 L131.16,114.24 L131.96,115.15 L132.76,116.06 L133.55,116.98 L134.34,117.89 L135.13,118.81 L135.92,119.73 L136.71,120.65 L137.50,121.57 L138.29,122.49 L139.07,123.41 L139.86,124.33 L140.64,125.26 L141.42,126.18 L142.21,127.11 L142.99,128.03 L143.77,128.96 L144.55,129.88 L145.33,130.81 L146.11,131.74 L146.89,132.66 L147.67,133.59 L148.45,134.52 L149.23,135.44 L150.01,136.37 L150.79,137.30 L151.57,138.23 L152.35,139.15 L153.13,140.08 L153.91,141.00 L154.69,141.93 L155.47,142.86 L156.26,143.78 L157.04,144.70 L157.82,145.63 L158.61,146.55 L159.39,147.47 L160.18,148.39 L160.97,149.31 L161.76,150.23 L162.55,151.15 L163.34,152.07 L164.13,152.98 L164.93,153.90 L165.72,154.81 L166.52,155.72 L167.32,156.64 L168.12,157.54 L168.92,158.45 L169.72,159.36 L170.53,160.26 L171.34,161.17 L172.15,162.07 L172.96,162.97 L173.77,163.86 L174.58,164.76 L175.38,165.66 L176.18,166.57 L176.98,167.48 L177.76,168.39 L178.53,169.31 L179.28,170.23 L180.02,171.17 L180.75,172.11 L181.45,173.07 L182.14,174.03 L182.80,175.01 L183.43,176.01 L184.04,177.02 L184.62,178.04 L185.16,179.08 L185.68,180.14 L186.16,181.22 L186.61,182.32 L187.03,183.43 L187.42,184.56 L187.77,185.70 L188.09,186.86 L188.38,188.03 L188.64,189.22 L188.86,190.42 L189.06,191.63 L189.22,192.85 L189.36,194.09 L189.46,195.33 L189.53,196.58 L189.57,197.85 L189.59,199.12 L189.57,200.39 L189.52,201.68 L189.45,202.97 L189.34,204.27 L189.20,205.57 L189.40,206.60 L191.70,268.50 L193.40,206.00 L193.81,204.95 L193.64,203.66 L193.50,202.38 L193.39,201.11 L193.31,199.84 L193.25,198.59 L193.22,197.34 L193.22,196.09 L193.24,194.86 L193.29,193.63 L193.36,192.41 L193.46,191.20 L193.58,189.99 L193.72,188.79 L193.88,187.59 L194.07,186.40 L194.27,185.22 L194.50,184.04 L194.74,182.87 L195.01,181.70 L195.29,180.54 L195.59,179.38 L195.90,178.23 L196.23,177.08 L196.58,175.94 L196.95,174.80 L197.32,173.66 L197.72,172.53 L198.12,171.40 L198.54,170.28 L198.97,169.16 L199.41,168.05 L199.86,166.93 L200.33,165.82 L200.80,164.72 L201.28,163.61 L201.77,162.51 L202.27,161.41 L202.77,160.31 L203.28,159.22 L203.80,158.12 L204.33,157.03 L204.85,155.94 L205.39,154.85 L205.92,153.77 L206.46,152.68 L207.00,151.59 L207.55,150.51 L208.09,149.43 L208.64,148.34 L209.18,147.26 L209.73,146.17 L210.27,145.09 L210.81,144.01 L211.35,142.92 L211.89,141.84 L212.42,140.75 L212.95,139.67 L213.47,138.58 L213.99,137.49 L214.51,136.40 L215.02,135.31 L215.53,134.22 L216.03,133.13 L216.53,132.03 L217.02,130.94 L217.51,129.84 L217.99,128.74 L218.47,127.64 L218.94,126.54 L219.41,125.44 L219.88,124.33 L220.33,123.22 L220.79,122.12 L221.24,121.01 L221.68,119.89 L222.12,118.78 L222.55,117.66 L222.98,116.54 L223.40,115.42 L223.81,114.30 L224.22,113.18 L224.63,112.05 L225.03,110.92 L225.42,109.79 L225.81,108.65 L226.19,107.52 L226.56,106.38 L226.93,105.24 L227.29,104.09 L227.65,102.95 L228.00,101.79 L228.34,100.64 L228.68,99.49 L229.01,98.33 L229.34,97.17 L229.65,96.00 L229.96,94.83 L230.27,93.66 L230.57,92.49 L230.86,91.31 L231.14,90.13 L231.42,88.94 L231.70,87.76 L231.97,86.57 L232.24,85.38 L232.51,84.19 L232.78,83.01 L233.05,81.82 L233.33,80.64 L233.61,79.45 L233.89,78.28 L234.19,77.10 L234.49,75.93 L234.81,74.76 L235.13,73.60 L235.47,72.45 L235.82,71.30 L236.19,70.17 L236.57,69.04 L236.97,67.91 L237.39,66.80 L237.83,65.70 L238.30,64.61 L238.78,63.53 L239.29,62.46 L239.83,61.41 L240.39,60.37 L240.98,59.34 L241.60,58.33 L242.24,57.33 L242.90,56.34 L243.59,55.37 L244.30,54.42 L245.03,53.47 L245.78,52.54 L246.55,51.63 L247.35,50.73 L248.16,49.84 L248.99,48.97 L249.84,48.12 L250.70,47.28 L251.58,46.45 L252.48,45.64 L253.39,44.85 L254.31,44.07 L255.25,43.30 L256.20,42.56 L257.16,41.82 L258.13,41.11 L259.11,40.40 L260.11,39.72 L261.11,39.04 L262.13,38.39 L263.15,37.74 L264.19,37.11 L265.23,36.49 L266.28,35.89 L267.34,35.30 L268.41,34.72 L269.48,34.15 L270.57,33.60 L271.66,33.06 L272.76,32.52 L273.86,32.00 L274.97,31.50 L276.08,31.00 L277.20,30.51 L278.33,30.03 L279.46,29.56 L280.60,29.11 L281.74,28.66 L282.88,28.22 L284.03,27.78 L285.17,27.36 L286.33,26.94 L287.48,26.54 L288.64,26.14 L289.80,25.74 L290.96,25.36 L292.12,24.98 L293.28,24.61 L294.45,24.24 L295.61,23.88 L296.77,23.52 L297.93,23.17 L299.10,22.83 L300.26,22.49 L301.41,22.15 L302.57,21.82 L303.73,21.49 L304.88,21.17 L306.03,20.85 L307.18,20.53 L308.32,20.22 L309.46,19.90 L310.59,19.59 L311.72,19.28 L312.85,18.98 L313.97,18.67 L315.09,18.37 L316.20,18.06 L317.50,17.90" fill="none" stroke="#0000ff" stroke-width="1.7" stroke-linejoin="round" stroke-linecap="butt"/>
<path d="M69.90,53.70 L70.04,55.08 L70.98,55.85 L71.91,56.62 L72.85,57.39 L73.78,58.16 L74.70,58.94 L75.63,59.72 L76.55,60.50 L77.47,61.29 L78.39,62.08 L79.30,62.87 L80.22,63.66 L81.13,64.46 L82.04,65.25 L82.94,66.05 L83.84,66.86 L84.75,67.66 L85.64,68.47 L86.54,69.28 L87.44,70.10 L88.33,70.91 L89.22,71.73 L90.10,72.55 L90.99,73.38 L91.87,74.20 L92.75,75.03 L93.63,75.86 L94.51,76.69 L95.38,77.52 L96.26,78.36 L97.13,79.20 L98.00,80.04 L98.86,80.88 L99.73,81.73 L100.59,82.58 L101.45,83.43 L102.31,84.28 L103.16,85.13 L104.02,85.99 L104.87,86.84 L105.72,87.70 L106.57,88.57 L107.42,89.43 L108.26,90.29 L109.11,91.16 L109.95,92.03 L110.79,92.90 L111.63,93.77 L112.46,94.65 L113.30,95.52 L114.13,96.40 L114.96,97.28 L115.79,98.16 L116.62,99.05 L117.44,99.93 L118.27,100.82 L119.09,101.70 L119.91,102.59 L120.73,103.48 L121.55,104.38 L122.37,105.27 L123.18,106.17 L123.99,107.06 L124.81,107.96 L125.62,108.86 L126.43,109.76 L127.23,110.66 L128.04,111.57 L128.84,112.47 L129.65,113.38 L130.45,114.29 L131.25,115.20 L132.05,116.11 L132.85,117.02 L133.64,117.93 L134.44,118.84 L135.23,119.76 L136.03,120.67 L136.82,121.59 L137.61,122.51 L138.40,123.43 L139.19,124.35 L139.98,125.27 L140.76,126.19 L141.55,127.11 L142.34,128.03 L143.12,128.96 L143.91,129.88 L144.69,130.81 L145.47,131.73 L146.26,132.65 L147.04,133.58 L147.82,134.50 L148.61,135.43 L149.39,136.35 L150.17,137.28 L150.95,138.20 L151.74,139.13 L152.52,140.05 L153.30,140.98 L154.09,141.90 L154.87,142.83 L155.66,143.75 L156.44,144.67 L157.23,145.60 L158.01,146.52 L158.80,147.44 L159.59,148.36 L160.38,149.28 L161.17,150.20 L161.96,151.12 L162.75,152.04 L163.54,152.95 L164.34,153.87 L165.13,154.78 L165.93,155.69 L166.73,156.61 L167.53,157.52 L168.33,158.43 L169.13,159.33 L169.93,160.24 L170.74,161.14 L171.55,162.05 L172.36,162.95 L173.17,163.85 L173.97,164.75 L174.77,165.65 L175.57,166.56 L176.36,167.47 L177.14,168.39 L177.91,169.31 L178.66,170.24 L179.40,171.17 L180.12,172.12 L180.82,173.08 L181.51,174.04 L182.17,175.02 L182.80,176.02 L183.41,177.03 L183.99,178.05 L184.54,179.09 L185.06,180.15 L185.54,181.23 L185.99,182.32 L186.42,183.43 L186.80,184.56 L187.16,185.70 L187.49,186.85 L187.78,188.02 L188.04,189.21 L188.27,190.40 L188.47,191.61 L188.64,192.83 L188.78,194.07 L188.88,195.31 L188.95,196.56 L189.00,197.83 L189.01,199.10 L188.99,200.38 L188.94,201.66 L188.86,202.96 L188.75,204.26 L188.61,205.57 L188.80,206.60 L190.90,253.00 L192.00,206.00 L192.25,204.93 L192.11,203.65 L192.00,202.38 L191.90,201.11 L191.84,199.85 L191.79,198.60 L191.76,197.35 L191.76,196.11 L191.78,194.87 L191.82,193.64 L191.88,192.41 L191.95,191.19 L192.05,189.98 L192.17,188.77 L192.30,187.56 L192.45,186.36 L192.62,185.17 L192.81,183.98 L193.01,182.79 L193.23,181.61 L193.46,180.43 L193.71,179.26 L193.97,178.09 L194.25,176.92 L194.54,175.76 L194.84,174.60 L195.15,173.45 L195.48,172.30 L195.82,171.15 L196.17,170.00 L196.54,168.86 L196.91,167.72 L197.29,166.59 L197.68,165.45 L198.08,164.32 L198.49,163.19 L198.91,162.07 L199.34,160.94 L199.77,159.82 L200.21,158.70 L200.65,157.58 L201.11,156.47 L201.56,155.35 L202.02,154.24 L202.49,153.13 L202.96,152.01 L203.43,150.90 L203.91,149.79 L204.39,148.69 L204.87,147.58 L205.36,146.47 L205.84,145.36 L206.33,144.26 L206.81,143.15 L207.30,142.05 L207.78,140.94 L208.27,139.83 L208.75,138.73 L209.23,137.62 L209.71,136.51 L210.19,135.40 L210.67,134.29 L211.14,133.19 L211.62,132.08 L212.09,130.97 L212.57,129.86 L213.04,128.75 L213.51,127.64 L213.98,126.53 L214.45,125.42 L214.92,124.30 L215.39,123.19 L215.87,122.08 L216.34,120.97 L216.81,119.86 L217.28,118.74 L217.75,117.63 L218.22,116.52 L218.69,115.40 L219.16,114.29 L219.63,113.18 L220.11,112.06 L220.58,110.95 L221.05,109.83 L221.53,108.72 L222.01,107.60 L222.48,106.48 L222.96,105.37 L223.44,104.25 L223.92,103.13 L224.41,102.02 L224.89,100.90 L225.38,99.78 L225.87,98.66 L226.36,97.55 L226.85,96.43 L227.34,95.31 L227.84,94.19 L228.34,93.07 L228.84,91.96 L229.34,90.84 L229.85,89.73 L230.37,88.62 L230.88,87.51 L231.41,86.40 L231.93,85.30 L232.46,84.20 L233.00,83.10 L233.55,82.01 L234.10,80.92 L234.65,79.84 L235.21,78.77 L235.78,77.70 L236.36,76.63 L236.95,75.57 L237.54,74.52 L238.14,73.48 L238.75,72.44 L239.37,71.42 L240.00,70.40 L240.64,69.38 L241.28,68.38 L241.94,67.39 L242.61,66.41 L243.29,65.43 L243.98,64.47 L244.68,63.52 L245.40,62.58 L246.12,61.65 L246.86,60.74 L247.61,59.83 L248.37,58.94 L249.15,58.06 L249.94,57.20 L250.75,56.35 L251.57,55.51 L252.40,54.69 L253.25,53.88 L254.11,53.09 L254.99,52.32 L255.89,51.56 L256.80,50.81 L257.72,50.09 L258.67,49.38 L259.63,48.69 L260.61,48.01 L261.60,47.35 L262.61,46.71 L263.63,46.08 L264.66,45.47 L265.71,44.87 L266.77,44.29 L267.84,43.72 L268.93,43.16 L270.02,42.62 L271.13,42.09 L272.24,41.57 L273.37,41.06 L274.50,40.57 L275.64,40.08 L276.79,39.61 L277.94,39.15 L279.11,38.70 L280.27,38.25 L281.45,37.82 L282.62,37.40 L283.81,36.98 L284.99,36.57 L286.18,36.17 L287.37,35.78 L288.56,35.40 L289.76,35.02 L290.95,34.64 L292.15,34.28 L293.34,33.91 L294.54,33.56 L295.73,33.21 L296.92,32.86 L298.11,32.51 L299.29,32.17 L300.48,31.83 L301.65,31.50 L302.83,31.17 L303.99,30.84 L305.15,30.51 L306.31,30.18 L307.46,29.85 L308.60,29.52 L309.73,29.19 L310.85,28.87 L311.96,28.54 L313.07,28.21 L314.16,27.88 L315.24,27.54 L316.31,27.21 L317.50,26.90" fill="none" stroke="#008080" stroke-width="1.7" stroke-linejoin="round" stroke-linecap="butt"/>
<path d="M69.60,51.40 L69.71,52.81 L70.65,53.56 L71.60,54.32 L72.54,55.09 L73.47,55.85 L74.41,56.62 L75.34,57.39 L76.26,58.17 L77.19,58.95 L78.11,59.73 L79.03,60.52 L79.94,61.30 L80.86,62.10 L81.77,62.89 L82.67,63.69 L83.58,64.49 L84.48,65.29 L85.38,66.10 L86.28,66.91 L87.17,67.72 L88.06,68.53 L88.95,69.35 L89.84,70.17 L90.72,70.99 L91.60,71.82 L92.48,72.65 L93.35,73.48 L94.22,74.31 L95.09,75.15 L95.96,75.99 L96.83,76.83 L97.69,77.68 L98.55,78.52 L99.41,79.37 L100.26,80.22 L101.11,81.08 L101.96,81.93 L102.81,82.79 L103.66,83.66 L104.50,84.52 L105.34,85.39 L106.18,86.25 L107.01,87.13 L107.85,88.00 L108.68,88.87 L109.51,89.75 L110.34,90.63 L111.16,91.51 L111.98,92.40 L112.80,93.28 L113.62,94.17 L114.44,95.06 L115.25,95.96 L116.06,96.85 L116.87,97.75 L117.68,98.65 L118.49,99.55 L119.29,100.45 L120.09,101.35 L120.89,102.26 L121.69,103.17 L122.48,104.08 L123.28,104.99 L124.07,105.90 L124.86,106.82 L125.65,107.73 L126.43,108.65 L127.22,109.57 L128.00,110.49 L128.78,111.41 L129.56,112.34 L130.33,113.27 L131.11,114.19 L131.88,115.12 L132.65,116.05 L133.42,116.99 L134.19,117.92 L134.96,118.86 L135.72,119.79 L136.49,120.73 L137.25,121.67 L138.01,122.61 L138.77,123.55 L139.53,124.49 L140.29,125.43 L141.05,126.37 L141.80,127.32 L142.56,128.26 L143.32,129.20 L144.07,130.15 L144.83,131.09 L145.59,132.03 L146.34,132.98 L147.10,133.92 L147.86,134.86 L148.62,135.80 L149.38,136.74 L150.14,137.69 L150.90,138.63 L151.66,139.56 L152.42,140.50 L153.19,141.44 L153.96,142.37 L154.72,143.31 L155.49,144.24 L156.27,145.17 L157.04,146.10 L157.82,147.03 L158.59,147.96 L159.37,148.88 L160.16,149.80 L160.94,150.72 L161.73,151.64 L162.52,152.56 L163.32,153.47 L164.11,154.38 L164.91,155.29 L165.72,156.19 L166.53,157.09 L167.34,157.99 L168.15,158.89 L168.97,159.78 L169.80,160.67 L170.62,161.55 L171.45,162.44 L172.29,163.32 L173.12,164.20 L173.94,165.08 L174.77,165.96 L175.58,166.85 L176.38,167.75 L177.18,168.65 L177.95,169.56 L178.71,170.48 L179.45,171.41 L180.16,172.35 L180.85,173.31 L181.52,174.29 L182.15,175.28 L182.76,176.29 L183.33,177.32 L183.86,178.37 L184.35,179.45 L184.81,180.54 L185.23,181.66 L185.61,182.80 L185.96,183.95 L186.28,185.13 L186.56,186.31 L186.81,187.51 L187.04,188.73 L187.23,189.95 L187.40,191.18 L187.54,192.42 L187.65,193.67 L187.74,194.92 L187.80,196.18 L187.85,197.44 L187.87,198.69 L187.88,199.95 L187.86,201.21 L187.83,202.46 L187.78,203.71 L187.72,204.95 L187.90,206.00 L189.60,247.50 L192.30,206.00 L192.46,205.04 L192.37,203.74 L192.31,202.45 L192.27,201.18 L192.24,199.90 L192.24,198.64 L192.25,197.38 L192.29,196.13 L192.34,194.89 L192.41,193.65 L192.50,192.42 L192.60,191.19 L192.72,189.98 L192.86,188.76 L193.02,187.56 L193.19,186.36 L193.38,185.16 L193.58,183.97 L193.80,182.79 L194.04,181.61 L194.28,180.44 L194.55,179.27 L194.82,178.11 L195.11,176.95 L195.42,175.80 L195.73,174.65 L196.06,173.51 L196.40,172.37 L196.76,171.23 L197.12,170.10 L197.50,168.97 L197.88,167.85 L198.28,166.73 L198.69,165.61 L199.11,164.50 L199.53,163.39 L199.97,162.29 L200.42,161.18 L200.87,160.08 L201.34,158.99 L201.81,157.89 L202.29,156.80 L202.77,155.71 L203.27,154.63 L203.77,153.54 L204.27,152.46 L204.79,151.38 L205.30,150.30 L205.83,149.22 L206.36,148.15 L206.89,147.08 L207.43,146.00 L207.97,144.93 L208.52,143.86 L209.07,142.79 L209.62,141.72 L210.18,140.66 L210.74,139.59 L211.30,138.52 L211.86,137.46 L212.43,136.39 L212.99,135.33 L213.56,134.26 L214.13,133.19 L214.69,132.13 L215.26,131.06 L215.83,129.99 L216.39,128.93 L216.96,127.86 L217.52,126.79 L218.09,125.72 L218.65,124.65 L219.20,123.57 L219.76,122.50 L220.31,121.42 L220.86,120.35 L221.41,119.27 L221.95,118.19 L222.48,117.10 L223.02,116.02 L223.54,114.93 L224.07,113.84 L224.58,112.75 L225.09,111.65 L225.60,110.55 L226.10,109.45 L226.59,108.35 L227.07,107.24 L227.55,106.13 L228.02,105.01 L228.48,103.90 L228.93,102.78 L229.37,101.65 L229.81,100.52 L230.23,99.39 L230.65,98.25 L231.05,97.11 L231.45,95.96 L231.83,94.81 L232.21,93.66 L232.57,92.50 L232.94,91.35 L233.29,90.19 L233.64,89.02 L233.99,87.86 L234.34,86.70 L234.68,85.54 L235.03,84.38 L235.38,83.22 L235.72,82.06 L236.07,80.91 L236.43,79.75 L236.79,78.61 L237.16,77.47 L237.53,76.33 L237.92,75.20 L238.31,74.07 L238.72,72.95 L239.13,71.84 L239.56,70.74 L240.00,69.64 L240.46,68.56 L240.93,67.48 L241.43,66.42 L241.94,65.36 L242.46,64.32 L243.01,63.28 L243.58,62.27 L244.18,61.26 L244.79,60.27 L245.43,59.29 L246.10,58.32 L246.78,57.37 L247.48,56.43 L248.21,55.51 L248.95,54.59 L249.72,53.70 L250.50,52.81 L251.30,51.95 L252.12,51.09 L252.96,50.25 L253.82,49.43 L254.69,48.61 L255.58,47.82 L256.49,47.03 L257.41,46.27 L258.34,45.51 L259.29,44.78 L260.26,44.05 L261.24,43.34 L262.23,42.65 L263.23,41.97 L264.25,41.31 L265.28,40.66 L266.31,40.03 L267.36,39.41 L268.43,38.80 L269.50,38.21 L270.58,37.62 L271.66,37.06 L272.76,36.50 L273.87,35.96 L274.98,35.43 L276.10,34.91 L277.23,34.40 L278.36,33.90 L279.50,33.41 L280.64,32.94 L281.79,32.47 L282.95,32.02 L284.10,31.57 L285.26,31.13 L286.43,30.70 L287.59,30.28 L288.76,29.87 L289.93,29.47 L291.10,29.07 L292.27,28.68 L293.44,28.30 L294.61,27.93 L295.78,27.56 L296.95,27.20 L298.12,26.84 L299.29,26.49 L300.45,26.15 L301.61,25.81 L302.77,25.47 L303.92,25.14 L305.07,24.81 L306.21,24.49 L307.35,24.17 L308.48,23.86 L309.60,23.54 L310.72,23.23 L311.83,22.93 L312.94,22.62 L314.03,22.32 L315.12,22.02 L316.19,21.72 L317.50,21.50" fill="none" stroke="#ff00ff" stroke-width="1.7" stroke-linejoin="round" stroke-linecap="butt"/>
<path d="M419.40,22.50 L420.54,22.92 L421.65,23.36 L422.77,23.80 L423.88,24.25 L425.00,24.70 L426.11,25.15 L427.22,25.61 L428.33,26.07 L429.44,26.54 L430.55,27.01 L431.66,27.48 L432.76,27.96 L433.87,28.44 L434.97,28.93 L436.07,29.42 L437.17,29.91 L438.27,30.41 L439.37,30.91 L440.46,31.42 L441.56,31.93 L442.65,32.45 L443.74,32.97 L444.83,33.49 L445.91,34.02 L447.00,34.55 L448.08,35.09 L449.16,35.63 L450.24,36.18 L451.32,36.73 L452.39,37.28 L453.46,37.84 L454.53,38.40 L455.60,38.97 L456.67,39.54 L457.73,40.12 L458.79,40.70 L459.85,41.28 L460.91,41.87 L461.96,42.46 L463.01,43.06 L464.06,43.67 L465.10,44.27 L466.15,44.88 L467.19,45.50 L468.22,46.12 L469.26,46.75 L470.29,47.38 L471.32,48.01 L472.34,48.65 L473.37,49.29 L474.38,49.94 L475.40,50.59 L476.41,51.25 L477.42,51.91 L478.43,52.58 L479.43,53.25 L480.43,53.92 L481.43,54.60 L482.42,55.29 L483.41,55.98 L484.39,56.67 L485.38,57.37 L486.35,58.08 L487.33,58.79 L488.30,59.50 L489.27,60.22 L490.23,60.94 L491.19,61.67 L492.14,62.40 L493.10,63.14 L494.04,63.88 L494.99,64.63 L495.92,65.38 L496.86,66.14 L497.79,66.90 L498.72,67.67 L499.64,68.44 L500.56,69.22 L501.47,70.00 L502.38,70.79 L503.28,71.58 L504.18,72.37 L505.08,73.18 L505.97,73.98 L506.85,74.79 L507.73,75.61 L508.61,76.43 L509.48,77.26 L510.35,78.09 L511.21,78.93 L512.06,79.77 L512.91,80.62 L513.76,81.47 L514.60,82.33 L515.44,83.19 L516.27,84.06 L517.09,84.93 L517.91,85.81 L518.73,86.69 L519.54,87.58 L520.34,88.47 L521.14,89.37 L521.93,90.28 L522.72,91.19 L523.50,92.10 L524.28,93.02 L525.05,93.95 L525.81,94.88 L526.57,95.81 L527.32,96.75 L528.07,97.70 L528.82,98.65 L529.55,99.61 L530.29,100.56 L531.02,101.53 L531.74,102.50 L532.46,103.47 L533.17,104.44 L533.88,105.42 L534.59,106.40 L535.29,107.39 L535.99,108.38 L536.69,109.37 L537.38,110.36 L538.07,111.36 L538.75,112.36 L539.44,113.36 L540.12,114.37 L540.79,115.37 L541.47,116.38 L542.14,117.39 L542.81,118.40 L543.48,119.41 L544.14,120.43 L544.81,121.44 L545.47,122.46 L546.13,123.48 L546.79,124.50 L547.44,125.52 L548.09,126.54 L548.74,127.56 L549.38,128.59 L550.02,129.62 L550.65,130.65 L551.28,131.68 L551.90,132.71 L552.52,133.75 L553.13,134.79 L553.74,135.83 L554.34,136.88 L554.93,137.93 L555.51,138.98 L556.09,140.03 L556.66,141.09 L557.22,142.15 L557.77,143.22 L558.31,144.29 L558.84,145.36 L559.37,146.43 L559.88,147.51 L560.38,148.60 L560.87,149.69 L561.36,150.78 L561.82,151.88 L562.28,152.98 L562.73,154.09 L563.17,155.20 L563.59,156.31 L564.00,157.43 L564.41,158.55 L564.80,159.68 L565.18,160.81 L565.55,161.94 L565.91,163.08 L566.26,164.22 L566.59,165.37 L566.92,166.52 L567.24,167.67 L567.54,168.83 L567.83,169.99 L568.12,171.15 L568.39,172.32 L568.65,173.49 L568.90,174.66 L569.15,175.84 L569.38,177.02 L569.60,178.20 L569.81,179.38 L570.01,180.57 L570.19,181.76 L570.37,182.95 L570.54,184.15 L570.70,185.35 L570.85,186.55 L570.99,187.75 L571.11,188.95 L571.23,190.16 L571.34,191.37 L571.44,192.58 L571.53,193.79 L571.61,195.01 L571.69,196.22 L571.75,197.44 L571.81,198.66 L571.86,199.88 L571.90,201.10 L571.93,202.32 L571.96,203.54 L571.97,204.76 L571.99,205.99 L571.99,207.21 L571.99,208.43 L571.98,209.66 L571.96,210.88 L572.20,212.00 L572.90,240.00 L573.40,212.00 L573.40,210.82 L573.39,209.60 L573.39,208.38 L573.39,207.17 L573.41,205.95 L573.43,204.74 L573.47,203.52 L573.51,202.31 L573.56,201.10 L573.63,199.89 L573.70,198.69 L573.78,197.48 L573.87,196.27 L573.97,195.07 L574.08,193.87 L574.20,192.67 L574.32,191.47 L574.46,190.27 L574.60,189.08 L574.75,187.88 L574.91,186.69 L575.08,185.50 L575.26,184.31 L575.45,183.12 L575.64,181.93 L575.84,180.75 L576.05,179.57 L576.27,178.38 L576.50,177.20 L576.74,176.03 L576.98,174.85 L577.23,173.68 L577.49,172.50 L577.75,171.33 L578.03,170.16 L578.31,168.99 L578.60,167.83 L578.90,166.66 L579.20,165.50 L579.51,164.34 L579.83,163.18 L580.16,162.02 L580.49,160.87 L580.83,159.72 L581.17,158.56 L581.53,157.41 L581.89,156.27 L582.26,155.12 L582.63,153.98 L583.01,152.84 L583.40,151.70 L583.79,150.56 L584.19,149.42 L584.60,148.29 L585.01,147.16 L585.43,146.03 L585.86,144.90 L586.29,143.77 L586.73,142.65 L587.17,141.53 L587.62,140.41 L588.07,139.29 L588.53,138.17 L588.99,137.06 L589.46,135.95 L589.93,134.84 L590.41,133.73 L590.89,132.62 L591.38,131.52 L591.87,130.41 L592.36,129.31 L592.86,128.21 L593.36,127.11 L593.87,126.01 L594.38,124.92 L594.89,123.82 L595.41,122.73 L595.93,121.64 L596.45,120.55 L596.97,119.46 L597.50,118.38 L598.03,117.29 L598.56,116.21 L599.09,115.12 L599.63,114.04 L600.17,112.96 L600.71,111.89 L601.25,110.81 L601.79,109.73 L602.33,108.66 L602.88,107.58 L603.42,106.51 L603.97,105.44 L604.52,104.37 L605.06,103.30 L605.61,102.23 L606.16,101.16 L606.71,100.09 L607.26,99.02 L607.81,97.96 L608.35,96.89 L608.90,95.82 L609.45,94.75 L610.00,93.68 L610.54,92.61 L611.09,91.55 L611.63,90.48 L612.17,89.40 L612.71,88.33 L613.25,87.26 L613.79,86.19 L614.33,85.11 L614.86,84.04 L615.39,82.96 L615.92,81.88 L616.45,80.80 L616.98,79.72 L617.50,78.63 L618.02,77.55 L618.53,76.46 L619.05,75.37 L619.56,74.28 L620.07,73.18 L620.57,72.09 L621.07,70.99 L621.57,69.88 L622.06,68.78 L622.55,67.67 L623.03,66.56 L623.51,65.45 L623.99,64.33 L624.46,63.21 L624.92,62.08 L625.39,60.96 L625.85,59.83 L626.31,58.70 L626.77,57.57 L627.23,56.45 L627.70,55.32 L628.17,54.20 L628.64,53.08 L629.11,51.97 L629.60,50.86 L630.09,49.75 L630.58,48.66 L631.09,47.57 L631.61,46.49 L632.14,45.41 L632.68,44.35 L633.24,43.30 L633.81,42.26 L634.39,41.23 L634.99,40.22 L635.61,39.22 L636.25,38.23 L636.91,37.26 L637.58,36.31 L638.28,35.37 L639.00,34.45 L639.75,33.55 L640.52,32.67 L641.32,31.81 L642.14,30.97 L642.98,30.15 L643.85,29.34 L644.74,28.56 L645.66,27.80 L646.59,27.05 L647.54,26.32 L648.51,25.61 L649.50,24.91 L650.50,24.23 L651.52,23.56 L652.55,22.91 L653.59,22.27 L654.65,21.65 L655.72,21.04 L656.80,20.44 L657.89,19.86 L658.98,19.28 L660.08,18.72 L661.19,18.17 L662.30,17.63 L663.42,17.09 L664.54,16.57 L665.66,16.06 L666.78,15.55 L667.90,15.05 L669.03,14.56 L670.15,14.08 L671.27,13.61 L672.39,13.14 L673.52,12.68 L674.64,12.23 L675.77,11.78 L676.89,11.35 L678.02,10.92 L679.15,10.49 L680.27,10.08 L681.40,9.67 L682.53,9.27 L683.66,8.87 L684.79,8.48 L685.92,8.10 L687.05,7.73 L688.19,7.36 L689.32,7.00 L690.45,6.65 L691.59,6.30 L692.73,5.95 L693.87,5.62 L695.01,5.29 L696.15,4.97 L697.29,4.65 L698.43,4.34 L699.70,4.10" fill="none" stroke="#404040" stroke-width="1.0" stroke-linejoin="round" stroke-linecap="butt"/>
<path d="M428.10,12.25 L428.98,12.70 L430.12,13.19 L431.25,13.68 L432.37,14.18 L433.50,14.69 L434.61,15.21 L435.72,15.73 L436.83,16.27 L437.93,16.81 L439.02,17.36 L440.12,17.93 L441.20,18.49 L442.28,19.07 L443.36,19.66 L444.43,20.25 L445.49,20.85 L446.55,21.46 L447.60,22.08 L448.65,22.71 L449.69,23.34 L450.73,23.98 L451.76,24.63 L452.79,25.29 L453.81,25.95 L454.83,26.62 L455.83,27.30 L456.84,27.99 L457.83,28.68 L458.83,29.39 L459.81,30.10 L460.79,30.81 L461.76,31.53 L462.73,32.26 L463.69,33.00 L464.65,33.75 L465.60,34.50 L466.54,35.25 L467.48,36.02 L468.41,36.79 L469.33,37.57 L470.25,38.35 L471.16,39.14 L472.06,39.94 L472.96,40.74 L473.85,41.55 L474.74,42.37 L475.61,43.19 L476.49,44.02 L477.35,44.86 L478.21,45.70 L479.06,46.54 L479.90,47.40 L480.74,48.26 L481.57,49.12 L482.39,49.99 L483.21,50.87 L484.02,51.75 L484.82,52.63 L485.62,53.52 L486.41,54.42 L487.20,55.32 L487.98,56.23 L488.75,57.14 L489.52,58.06 L490.29,58.98 L491.04,59.90 L491.80,60.83 L492.54,61.77 L493.29,62.70 L494.03,63.65 L494.76,64.59 L495.49,65.54 L496.21,66.50 L496.93,67.46 L497.65,68.42 L498.36,69.38 L499.07,70.35 L499.78,71.32 L500.48,72.30 L501.18,73.28 L501.87,74.26 L502.56,75.24 L503.25,76.23 L503.94,77.22 L504.62,78.21 L505.30,79.20 L505.98,80.20 L506.66,81.20 L507.33,82.20 L508.00,83.20 L508.67,84.21 L509.34,85.22 L510.00,86.23 L510.67,87.24 L511.33,88.25 L511.99,89.26 L512.65,90.28 L513.31,91.29 L513.97,92.31 L514.62,93.33 L515.28,94.35 L515.94,95.37 L516.59,96.39 L517.25,97.42 L517.90,98.44 L518.56,99.46 L519.21,100.48 L519.87,101.51 L520.53,102.53 L521.18,103.56 L521.84,104.58 L522.50,105.60 L523.16,106.63 L523.82,107.65 L524.48,108.67 L525.14,109.70 L525.81,110.72 L526.47,111.74 L527.14,112.76 L527.81,113.78 L528.48,114.79 L529.15,115.81 L529.83,116.83 L530.50,117.84 L531.18,118.86 L531.86,119.87 L532.53,120.89 L533.21,121.90 L533.89,122.91 L534.57,123.92 L535.25,124.94 L535.93,125.95 L536.60,126.96 L537.28,127.98 L537.96,128.99 L538.63,130.00 L539.31,131.01 L539.98,132.03 L540.65,133.04 L541.32,134.06 L541.98,135.07 L542.65,136.09 L543.31,137.11 L543.97,138.13 L544.62,139.14 L545.27,140.17 L545.92,141.19 L546.57,142.21 L547.21,143.23 L547.85,144.26 L548.48,145.29 L549.11,146.32 L549.73,147.35 L550.35,148.38 L550.97,149.41 L551.58,150.45 L552.18,151.49 L552.78,152.53 L553.37,153.57 L553.96,154.61 L554.54,155.66 L555.12,156.71 L555.68,157.76 L556.25,158.82 L556.80,159.87 L557.35,160.93 L557.89,162.00 L558.42,163.06 L558.94,164.13 L559.46,165.20 L559.97,166.28 L560.47,167.36 L560.96,168.44 L561.44,169.52 L561.91,170.61 L562.38,171.70 L562.83,172.80 L563.28,173.90 L563.71,175.00 L564.14,176.11 L564.55,177.22 L564.96,178.34 L565.35,179.46 L565.74,180.58 L566.11,181.71 L566.47,182.84 L566.82,183.98 L567.16,185.12 L567.49,186.27 L567.80,187.42 L568.10,188.58 L568.39,189.74 L568.67,190.91 L568.94,192.08 L569.19,193.26 L569.43,194.44 L569.65,195.63 L569.86,196.82 L570.06,198.02 L570.25,199.22 L570.41,200.43 L570.57,201.65 L570.71,202.87 L570.84,204.10 L570.95,205.33 L571.04,206.57 L571.12,207.81 L571.19,209.07 L571.24,210.33 L571.27,211.59 L571.29,212.86 L571.20,214.00 L573.10,267.50 L574.80,214.00 L575.00,212.85 L574.95,211.61 L574.92,210.37 L574.91,209.14 L574.91,207.91 L574.93,206.69 L574.97,205.46 L575.02,204.24 L575.08,203.03 L575.16,201.81 L575.26,200.60 L575.37,199.40 L575.49,198.19 L575.62,196.99 L575.77,195.79 L575.93,194.59 L576.10,193.40 L576.28,192.20 L576.48,191.01 L576.69,189.83 L576.90,188.64 L577.13,187.46 L577.37,186.28 L577.62,185.10 L577.87,183.92 L578.14,182.74 L578.41,181.57 L578.70,180.40 L578.99,179.23 L579.29,178.06 L579.59,176.90 L579.90,175.73 L580.22,174.57 L580.55,173.41 L580.88,172.25 L581.22,171.09 L581.56,169.93 L581.91,168.77 L582.27,167.62 L582.62,166.46 L582.98,165.31 L583.35,164.16 L583.72,163.00 L584.09,161.85 L584.46,160.70 L584.84,159.55 L585.22,158.40 L585.60,157.26 L585.98,156.11 L586.36,154.96 L586.74,153.81 L587.13,152.67 L587.51,151.52 L587.89,150.38 L588.27,149.23 L588.65,148.08 L589.03,146.94 L589.41,145.79 L589.78,144.65 L590.16,143.50 L590.53,142.35 L590.90,141.21 L591.26,140.06 L591.63,138.91 L591.99,137.77 L592.35,136.62 L592.71,135.47 L593.06,134.32 L593.42,133.18 L593.77,132.03 L594.12,130.88 L594.47,129.73 L594.82,128.58 L595.17,127.43 L595.51,126.28 L595.85,125.13 L596.20,123.98 L596.54,122.83 L596.88,121.68 L597.22,120.53 L597.55,119.38 L597.89,118.23 L598.23,117.08 L598.56,115.92 L598.90,114.77 L599.23,113.62 L599.56,112.46 L599.90,111.31 L600.23,110.15 L600.56,109.00 L600.89,107.84 L601.22,106.69 L601.55,105.53 L601.88,104.37 L602.21,103.22 L602.54,102.06 L602.87,100.90 L603.20,99.74 L603.52,98.58 L603.85,97.42 L604.18,96.26 L604.51,95.10 L604.84,93.94 L605.17,92.78 L605.50,91.61 L605.83,90.45 L606.17,89.29 L606.50,88.12 L606.83,86.96 L607.16,85.79 L607.50,84.63 L607.83,83.46 L608.17,82.29 L608.51,81.12 L608.84,79.95 L609.18,78.78 L609.52,77.61 L609.86,76.44 L610.21,75.27 L610.55,74.10 L610.90,72.92 L611.24,71.75 L611.59,70.58 L611.94,69.40 L612.29,68.22 L612.65,67.05 L613.00,65.87 L613.36,64.70 L613.73,63.53 L614.09,62.36 L614.47,61.19 L614.84,60.02 L615.22,58.85 L615.61,57.69 L616.00,56.53 L616.40,55.37 L616.80,54.22 L617.21,53.07 L617.63,51.93 L618.05,50.79 L618.48,49.65 L618.92,48.53 L619.37,47.40 L619.83,46.28 L620.29,45.17 L620.77,44.07 L621.25,42.97 L621.75,41.88 L622.25,40.80 L622.77,39.73 L623.29,38.66 L623.83,37.60 L624.38,36.56 L624.94,35.52 L625.52,34.49 L626.11,33.47 L626.71,32.46 L627.32,31.46 L627.95,30.48 L628.59,29.50 L629.24,28.54 L629.92,27.58 L630.60,26.64 L631.30,25.72 L632.02,24.80 L632.75,23.90 L633.51,23.01 L634.27,22.14 L635.06,21.28 L635.86,20.44 L636.68,19.61 L637.52,18.79 L638.37,17.99 L639.25,17.21 L640.14,16.44 L641.04,15.69 L641.97,14.95 L642.91,14.23 L643.86,13.53 L644.84,12.84 L645.83,12.17 L646.83,11.52 L647.85,10.88 L648.89,10.26 L649.94,9.66 L651.00,9.07 L652.08,8.51 L653.18,7.96 L654.29,7.43 L655.41,6.91 L656.55,6.42 L657.70,5.95 L658.87,5.49 L660.04,5.05 L661.24,4.63 L662.44,4.23 L663.66,3.85 L664.89,3.49 L666.13,3.15 L667.38,2.83 L668.65,2.53 L669.93,2.25 L671.22,1.99 L672.52,1.75 L673.83,1.54 L674.40,1.00" fill="none" stroke="#ff2020" stroke-width="1.0" stroke-linejoin="round" stroke-linecap="butt"/>
<path d="M421.25,10.25 L422.07,10.90 L423.23,11.36 L424.39,11.83 L425.54,12.32 L426.68,12.81 L427.82,13.31 L428.95,13.81 L430.08,14.33 L431.19,14.85 L432.31,15.38 L433.42,15.92 L434.52,16.47 L435.61,17.02 L436.70,17.58 L437.79,18.15 L438.87,18.73 L439.94,19.32 L441.01,19.91 L442.07,20.51 L443.12,21.12 L444.17,21.73 L445.22,22.35 L446.25,22.98 L447.29,23.62 L448.31,24.26 L449.33,24.91 L450.35,25.57 L451.36,26.24 L452.36,26.91 L453.36,27.59 L454.35,28.27 L455.34,28.96 L456.32,29.66 L457.30,30.36 L458.27,31.07 L459.23,31.79 L460.19,32.52 L461.15,33.25 L462.10,33.98 L463.04,34.73 L463.98,35.47 L464.91,36.23 L465.84,36.99 L466.76,37.76 L467.67,38.53 L468.59,39.31 L469.49,40.09 L470.39,40.88 L471.29,41.68 L472.18,42.48 L473.06,43.29 L473.94,44.10 L474.82,44.91 L475.69,45.74 L476.55,46.57 L477.41,47.40 L478.27,48.24 L479.11,49.08 L479.96,49.93 L480.80,50.79 L481.63,51.64 L482.46,52.51 L483.29,53.38 L484.11,54.25 L484.92,55.13 L485.73,56.01 L486.54,56.90 L487.34,57.79 L488.14,58.68 L488.93,59.58 L489.72,60.49 L490.50,61.40 L491.28,62.31 L492.06,63.23 L492.83,64.15 L493.60,65.07 L494.36,66.00 L495.13,66.93 L495.88,67.87 L496.64,68.80 L497.39,69.75 L498.13,70.69 L498.88,71.64 L499.62,72.59 L500.35,73.55 L501.08,74.51 L501.81,75.47 L502.54,76.44 L503.27,77.40 L503.99,78.37 L504.70,79.35 L505.42,80.32 L506.13,81.30 L506.84,82.29 L507.55,83.27 L508.25,84.26 L508.96,85.24 L509.65,86.24 L510.35,87.23 L511.05,88.22 L511.74,89.22 L512.43,90.22 L513.12,91.22 L513.81,92.23 L514.49,93.23 L515.17,94.24 L515.86,95.25 L516.53,96.26 L517.21,97.27 L517.89,98.28 L518.56,99.30 L519.24,100.31 L519.91,101.33 L520.58,102.35 L521.25,103.37 L521.92,104.39 L522.58,105.41 L523.25,106.43 L523.91,107.45 L524.58,108.48 L525.24,109.50 L525.90,110.53 L526.56,111.55 L527.23,112.58 L527.89,113.61 L528.55,114.63 L529.20,115.66 L529.86,116.69 L530.52,117.71 L531.18,118.74 L531.83,119.77 L532.49,120.80 L533.14,121.83 L533.79,122.86 L534.44,123.89 L535.09,124.93 L535.73,125.96 L536.38,126.99 L537.02,128.03 L537.66,129.06 L538.29,130.10 L538.93,131.14 L539.56,132.18 L540.19,133.22 L540.81,134.26 L541.44,135.30 L542.06,136.34 L542.67,137.39 L543.28,138.43 L543.89,139.48 L544.50,140.53 L545.10,141.58 L545.70,142.63 L546.29,143.69 L546.88,144.74 L547.46,145.80 L548.04,146.86 L548.62,147.92 L549.19,148.98 L549.75,150.05 L550.31,151.11 L550.87,152.18 L551.42,153.25 L551.96,154.32 L552.50,155.40 L553.04,156.47 L553.56,157.55 L554.08,158.63 L554.60,159.71 L555.11,160.80 L555.61,161.88 L556.11,162.97 L556.60,164.07 L557.08,165.16 L557.56,166.26 L558.03,167.36 L558.49,168.46 L558.94,169.56 L559.39,170.67 L559.83,171.78 L560.26,172.90 L560.69,174.01 L561.10,175.13 L561.51,176.25 L561.91,177.38 L562.31,178.51 L562.69,179.64 L563.06,180.77 L563.43,181.91 L563.79,183.05 L564.14,184.19 L564.48,185.34 L564.81,186.49 L565.13,187.64 L565.44,188.80 L565.74,189.96 L566.04,191.12 L566.32,192.29 L566.59,193.46 L566.85,194.64 L567.11,195.81 L567.35,197.00 L567.58,198.18 L567.80,199.37 L568.01,200.57 L568.21,201.76 L568.40,202.96 L568.57,204.17 L568.74,205.38 L568.89,206.59 L569.04,207.81 L569.17,209.03 L569.29,210.26 L569.40,211.49 L569.49,212.72 L569.20,214.00 L571.30,245.00 L572.30,214.00 L572.57,212.85 L572.55,211.61 L572.54,210.38 L572.54,209.15 L572.56,207.92 L572.58,206.70 L572.63,205.47 L572.68,204.26 L572.74,203.04 L572.82,201.82 L572.91,200.61 L573.01,199.40 L573.12,198.20 L573.24,196.99 L573.37,195.79 L573.52,194.59 L573.67,193.39 L573.83,192.19 L574.00,191.00 L574.18,189.81 L574.38,188.61 L574.57,187.43 L574.78,186.24 L575.00,185.05 L575.22,183.87 L575.46,182.69 L575.70,181.51 L575.94,180.33 L576.20,179.15 L576.46,177.98 L576.73,176.81 L577.00,175.63 L577.29,174.46 L577.57,173.29 L577.87,172.12 L578.16,170.96 L578.47,169.79 L578.78,168.63 L579.09,167.46 L579.41,166.30 L579.73,165.14 L580.06,163.98 L580.39,162.82 L580.72,161.66 L581.06,160.50 L581.40,159.34 L581.74,158.19 L582.09,157.03 L582.44,155.87 L582.79,154.72 L583.14,153.56 L583.50,152.41 L583.85,151.26 L584.21,150.10 L584.57,148.95 L584.93,147.80 L585.29,146.64 L585.65,145.49 L586.00,144.34 L586.36,143.19 L586.72,142.04 L587.08,140.88 L587.44,139.73 L587.79,138.58 L588.15,137.43 L588.50,136.28 L588.85,135.12 L589.21,133.97 L589.56,132.82 L589.91,131.67 L590.26,130.51 L590.61,129.36 L590.96,128.21 L591.30,127.06 L591.65,125.90 L592.00,124.75 L592.35,123.60 L592.70,122.45 L593.04,121.29 L593.39,120.14 L593.74,118.99 L594.09,117.83 L594.44,116.68 L594.79,115.53 L595.14,114.38 L595.49,113.23 L595.84,112.07 L596.19,110.92 L596.54,109.77 L596.90,108.62 L597.25,107.47 L597.61,106.31 L597.96,105.16 L598.32,104.01 L598.68,102.86 L599.04,101.71 L599.40,100.56 L599.77,99.41 L600.13,98.26 L600.50,97.11 L600.87,95.96 L601.24,94.81 L601.61,93.66 L601.99,92.51 L602.36,91.36 L602.74,90.21 L603.12,89.06 L603.51,87.91 L603.89,86.76 L604.28,85.62 L604.67,84.47 L605.07,83.32 L605.46,82.17 L605.86,81.03 L606.27,79.88 L606.67,78.73 L607.08,77.59 L607.49,76.44 L607.91,75.30 L608.33,74.15 L608.75,73.01 L609.17,71.86 L609.60,70.72 L610.03,69.58 L610.47,68.43 L610.91,67.29 L611.36,66.15 L611.80,65.01 L612.26,63.87 L612.72,62.74 L613.18,61.60 L613.65,60.47 L614.12,59.34 L614.60,58.22 L615.09,57.09 L615.58,55.97 L616.08,54.86 L616.59,53.75 L617.10,52.64 L617.62,51.54 L618.15,50.45 L618.68,49.36 L619.22,48.27 L619.77,47.20 L620.33,46.12 L620.90,45.06 L621.47,44.00 L622.06,42.95 L622.65,41.90 L623.25,40.87 L623.87,39.84 L624.49,38.82 L625.12,37.81 L625.76,36.81 L626.42,35.81 L627.08,34.83 L627.75,33.86 L628.44,32.89 L629.14,31.94 L629.84,31.00 L630.56,30.07 L631.30,29.15 L632.04,28.24 L632.80,27.34 L633.57,26.46 L634.35,25.58 L635.14,24.72 L635.95,23.88 L636.77,23.04 L637.61,22.22 L638.46,21.42 L639.32,20.63 L640.20,19.85 L641.10,19.09 L642.00,18.34 L642.92,17.61 L643.86,16.89 L644.80,16.19 L645.77,15.50 L646.74,14.82 L647.73,14.16 L648.72,13.52 L649.74,12.89 L650.76,12.28 L651.80,11.68 L652.84,11.09 L653.90,10.53 L654.97,9.97 L656.05,9.44 L657.15,8.91 L658.25,8.41 L659.36,7.92 L660.49,7.44 L661.62,6.98 L662.77,6.54 L663.92,6.11 L665.08,5.70 L666.25,5.30 L667.44,4.92 L668.63,4.56 L669.83,4.21 L671.03,3.88 L672.25,3.56 L673.47,3.26 L674.71,2.98 L675.95,2.71 L677.19,2.46 L678.45,2.22 L679.71,2.01 L680.98,1.80 L682.25,1.62 L683.53,1.45 L684.20,0.80" fill="none" stroke="#2020ff" stroke-width="1.0" stroke-linejoin="round" stroke-linecap="butt"/>
<path d="M423.10,16.25 L424.04,16.63 L425.22,17.08 L426.39,17.53 L427.55,18.00 L428.70,18.47 L429.85,18.95 L430.99,19.44 L432.13,19.94 L433.25,20.45 L434.37,20.96 L435.49,21.49 L436.59,22.02 L437.69,22.56 L438.79,23.11 L439.87,23.67 L440.95,24.23 L442.02,24.81 L443.09,25.39 L444.15,25.98 L445.21,26.57 L446.25,27.18 L447.29,27.79 L448.33,28.41 L449.36,29.04 L450.38,29.67 L451.40,30.31 L452.41,30.96 L453.41,31.62 L454.41,32.28 L455.41,32.95 L456.39,33.63 L457.37,34.31 L458.35,35.00 L459.32,35.70 L460.28,36.41 L461.24,37.12 L462.19,37.83 L463.14,38.56 L464.08,39.29 L465.02,40.03 L465.95,40.77 L466.88,41.52 L467.80,42.27 L468.71,43.04 L469.62,43.80 L470.53,44.58 L471.43,45.36 L472.32,46.14 L473.21,46.93 L474.10,47.73 L474.98,48.53 L475.85,49.34 L476.72,50.16 L477.59,50.97 L478.45,51.80 L479.31,52.63 L480.16,53.46 L481.01,54.30 L481.85,55.15 L482.69,56.00 L483.52,56.85 L484.35,57.71 L485.18,58.58 L486.00,59.45 L486.82,60.32 L487.63,61.20 L488.44,62.08 L489.24,62.97 L490.05,63.86 L490.84,64.76 L491.64,65.66 L492.42,66.56 L493.21,67.47 L493.99,68.38 L494.77,69.30 L495.54,70.22 L496.31,71.14 L497.08,72.07 L497.85,73.00 L498.61,73.94 L499.36,74.88 L500.12,75.82 L500.87,76.76 L501.61,77.71 L502.36,78.67 L503.10,79.62 L503.83,80.58 L504.57,81.54 L505.30,82.51 L506.03,83.47 L506.75,84.44 L507.48,85.42 L508.20,86.39 L508.91,87.37 L509.63,88.35 L510.34,89.34 L511.05,90.32 L511.75,91.31 L512.46,92.30 L513.16,93.30 L513.86,94.29 L514.55,95.29 L515.25,96.29 L515.94,97.29 L516.63,98.29 L517.32,99.30 L518.00,100.30 L518.69,101.31 L519.37,102.32 L520.05,103.33 L520.72,104.35 L521.40,105.36 L522.07,106.38 L522.74,107.39 L523.41,108.41 L524.08,109.43 L524.75,110.45 L525.41,111.47 L526.08,112.50 L526.74,113.52 L527.40,114.54 L528.06,115.57 L528.71,116.60 L529.37,117.62 L530.02,118.65 L530.67,119.68 L531.32,120.71 L531.97,121.74 L532.61,122.77 L533.26,123.81 L533.90,124.84 L534.53,125.88 L535.17,126.91 L535.80,127.95 L536.42,128.99 L537.05,130.03 L537.67,131.07 L538.29,132.11 L538.91,133.16 L539.52,134.20 L540.13,135.25 L540.73,136.30 L541.33,137.35 L541.93,138.40 L542.52,139.46 L543.11,140.51 L543.70,141.57 L544.28,142.63 L544.85,143.69 L545.42,144.75 L545.99,145.81 L546.55,146.88 L547.11,147.94 L547.66,149.01 L548.21,150.08 L548.75,151.16 L549.29,152.23 L549.82,153.31 L550.35,154.38 L550.87,155.46 L551.39,156.55 L551.90,157.63 L552.40,158.72 L552.90,159.81 L553.40,160.90 L553.88,161.99 L554.36,163.09 L554.84,164.18 L555.31,165.28 L555.77,166.38 L556.22,167.49 L556.67,168.59 L557.11,169.70 L557.55,170.81 L557.97,171.93 L558.39,173.04 L558.81,174.16 L559.21,175.28 L559.61,176.41 L560.00,177.53 L560.39,178.66 L560.76,179.79 L561.13,180.93 L561.49,182.07 L561.85,183.21 L562.19,184.35 L562.53,185.49 L562.85,186.64 L563.17,187.79 L563.48,188.95 L563.79,190.10 L564.08,191.26 L564.37,192.42 L564.64,193.59 L564.91,194.76 L565.17,195.93 L565.42,197.10 L565.66,198.28 L565.89,199.46 L566.11,200.65 L566.32,201.83 L566.52,203.02 L566.71,204.22 L566.90,205.41 L567.07,206.62 L567.23,207.82 L567.38,209.03 L567.52,210.24 L567.65,211.45 L567.77,212.67 L567.30,214.00 L568.50,260.00 L571.60,214.00 L572.06,212.90 L572.10,211.66 L572.15,210.43 L572.21,209.21 L572.28,207.98 L572.36,206.76 L572.45,205.54 L572.56,204.33 L572.67,203.12 L572.80,201.91 L572.94,200.70 L573.08,199.50 L573.24,198.30 L573.40,197.10 L573.58,195.90 L573.76,194.71 L573.96,193.51 L574.16,192.33 L574.37,191.14 L574.59,189.95 L574.81,188.77 L575.05,187.59 L575.29,186.41 L575.54,185.24 L575.80,184.06 L576.06,182.89 L576.33,181.72 L576.61,180.55 L576.89,179.38 L577.18,178.22 L577.48,177.05 L577.78,175.89 L578.09,174.73 L578.40,173.57 L578.72,172.41 L579.04,171.26 L579.37,170.10 L579.70,168.95 L580.04,167.80 L580.38,166.64 L580.72,165.49 L581.07,164.34 L581.42,163.20 L581.78,162.05 L582.14,160.90 L582.50,159.76 L582.86,158.61 L583.23,157.47 L583.59,156.32 L583.96,155.18 L584.33,154.04 L584.71,152.90 L585.08,151.75 L585.45,150.61 L585.83,149.47 L586.21,148.33 L586.58,147.19 L586.96,146.05 L587.34,144.91 L587.71,143.77 L588.09,142.63 L588.47,141.49 L588.84,140.35 L589.22,139.21 L589.59,138.07 L589.96,136.93 L590.33,135.79 L590.70,134.65 L591.07,133.51 L591.44,132.37 L591.80,131.23 L592.17,130.08 L592.54,128.94 L592.90,127.80 L593.27,126.66 L593.63,125.52 L594.00,124.38 L594.36,123.23 L594.72,122.09 L595.09,120.95 L595.45,119.81 L595.82,118.66 L596.18,117.52 L596.54,116.38 L596.91,115.24 L597.27,114.09 L597.64,112.95 L598.01,111.81 L598.37,110.67 L598.74,109.52 L599.11,108.38 L599.48,107.24 L599.85,106.10 L600.22,104.95 L600.59,103.81 L600.96,102.67 L601.34,101.53 L601.71,100.38 L602.09,99.24 L602.47,98.10 L602.84,96.96 L603.23,95.81 L603.61,94.67 L603.99,93.53 L604.38,92.39 L604.77,91.25 L605.16,90.10 L605.55,88.96 L605.94,87.82 L606.34,86.68 L606.74,85.54 L607.14,84.40 L607.54,83.26 L607.95,82.11 L608.35,80.97 L608.77,79.83 L609.18,78.69 L609.59,77.55 L610.01,76.41 L610.44,75.27 L610.86,74.13 L611.29,72.99 L611.72,71.85 L612.15,70.72 L612.59,69.58 L613.03,68.44 L613.47,67.30 L613.92,66.16 L614.37,65.03 L614.83,63.89 L615.29,62.76 L615.76,61.63 L616.23,60.51 L616.71,59.38 L617.19,58.26 L617.68,57.14 L618.17,56.03 L618.68,54.92 L619.18,53.82 L619.70,52.72 L620.22,51.62 L620.75,50.54 L621.29,49.45 L621.84,48.38 L622.39,47.31 L622.95,46.24 L623.53,45.19 L624.11,44.14 L624.70,43.10 L625.30,42.07 L625.91,41.04 L626.53,40.03 L627.16,39.02 L627.80,38.03 L628.45,37.04 L629.11,36.07 L629.79,35.10 L630.47,34.15 L631.17,33.20 L631.88,32.27 L632.60,31.35 L633.34,30.44 L634.09,29.55 L634.85,28.66 L635.62,27.79 L636.41,26.94 L637.22,26.10 L638.03,25.27 L638.87,24.45 L639.71,23.65 L640.57,22.87 L641.45,22.10 L642.34,21.35 L643.25,20.61 L644.18,19.89 L645.12,19.19 L646.07,18.50 L647.04,17.82 L648.03,17.17 L649.02,16.52 L650.03,15.90 L651.06,15.28 L652.09,14.69 L653.14,14.10 L654.20,13.53 L655.27,12.98 L656.35,12.44 L657.44,11.91 L658.54,11.39 L659.65,10.89 L660.77,10.40 L661.89,9.93 L663.03,9.46 L664.17,9.01 L665.32,8.57 L666.47,8.15 L667.63,7.73 L668.80,7.33 L669.97,6.94 L671.15,6.55 L672.33,6.18 L673.51,5.82 L674.70,5.48 L675.89,5.14 L677.09,4.81 L678.28,4.49 L679.48,4.18 L680.68,3.88 L681.87,3.59 L683.07,3.31 L684.27,3.04 L685.47,2.77 L686.67,2.52 L687.86,2.27 L689.06,2.03 L690.25,1.80 L691.44,1.58 L692.30,1.00" fill="none" stroke="#109090" stroke-width="1.0" stroke-linejoin="round" stroke-linecap="butt"/>
<path d="M423.10,14.00 L424.04,14.37 L425.21,14.81 L426.37,15.27 L427.52,15.74 L428.67,16.21 L429.82,16.70 L430.95,17.19 L432.08,17.69 L433.21,18.20 L434.33,18.72 L435.44,19.25 L436.55,19.78 L437.65,20.33 L438.74,20.88 L439.83,21.44 L440.91,22.01 L441.99,22.59 L443.06,23.17 L444.12,23.76 L445.18,24.36 L446.23,24.97 L447.28,25.59 L448.32,26.21 L449.35,26.84 L450.38,27.48 L451.40,28.12 L452.42,28.78 L453.43,29.44 L454.44,30.11 L455.44,30.78 L456.43,31.46 L457.42,32.15 L458.40,32.85 L459.38,33.55 L460.35,34.26 L461.32,34.97 L462.28,35.70 L463.24,36.42 L464.19,37.16 L465.13,37.90 L466.07,38.65 L467.00,39.40 L467.93,40.16 L468.86,40.93 L469.77,41.70 L470.69,42.48 L471.59,43.27 L472.49,44.06 L473.39,44.85 L474.28,45.65 L475.17,46.46 L476.05,47.27 L476.93,48.09 L477.80,48.91 L478.66,49.74 L479.52,50.58 L480.38,51.42 L481.23,52.26 L482.08,53.11 L482.92,53.96 L483.75,54.82 L484.59,55.69 L485.41,56.56 L486.23,57.43 L487.05,58.31 L487.87,59.19 L488.67,60.08 L489.48,60.97 L490.28,61.86 L491.08,62.76 L491.87,63.67 L492.65,64.57 L493.44,65.49 L494.22,66.40 L494.99,67.32 L495.77,68.25 L496.54,69.17 L497.30,70.10 L498.06,71.04 L498.82,71.98 L499.57,72.92 L500.32,73.86 L501.07,74.81 L501.82,75.76 L502.56,76.72 L503.29,77.68 L504.03,78.64 L504.76,79.60 L505.49,80.57 L506.21,81.54 L506.94,82.51 L507.66,83.49 L508.37,84.46 L509.09,85.44 L509.80,86.43 L510.51,87.41 L511.22,88.40 L511.92,89.39 L512.62,90.38 L513.32,91.38 L514.02,92.37 L514.72,93.37 L515.41,94.37 L516.10,95.37 L516.79,96.38 L517.48,97.38 L518.16,98.39 L518.85,99.40 L519.53,100.41 L520.21,101.42 L520.89,102.43 L521.57,103.45 L522.24,104.46 L522.92,105.48 L523.59,106.50 L524.26,107.52 L524.94,108.54 L525.61,109.56 L526.27,110.58 L526.94,111.60 L527.61,112.62 L528.28,113.64 L528.94,114.67 L529.60,115.69 L530.27,116.72 L530.93,117.74 L531.59,118.77 L532.25,119.80 L532.91,120.82 L533.57,121.85 L534.22,122.88 L534.87,123.91 L535.53,124.94 L536.17,125.97 L536.82,127.00 L537.47,128.04 L538.11,129.07 L538.75,130.11 L539.38,131.15 L540.02,132.18 L540.65,133.22 L541.28,134.26 L541.90,135.31 L542.52,136.35 L543.14,137.39 L543.75,138.44 L544.36,139.49 L544.97,140.54 L545.57,141.59 L546.17,142.64 L546.77,143.69 L547.36,144.75 L547.94,145.80 L548.52,146.86 L549.10,147.92 L549.67,148.99 L550.24,150.05 L550.80,151.12 L551.35,152.19 L551.90,153.26 L552.45,154.33 L552.99,155.40 L553.52,156.48 L554.05,157.56 L554.57,158.64 L555.09,159.72 L555.60,160.81 L556.10,161.90 L556.60,162.99 L557.09,164.08 L557.57,165.17 L558.05,166.27 L558.52,167.37 L558.98,168.47 L559.44,169.58 L559.89,170.69 L560.33,171.80 L560.76,172.91 L561.19,174.03 L561.61,175.15 L562.02,176.27 L562.42,177.39 L562.81,178.52 L563.20,179.65 L563.58,180.79 L563.94,181.92 L564.30,183.06 L564.65,184.21 L565.00,185.35 L565.33,186.50 L565.65,187.66 L565.97,188.81 L566.27,189.97 L566.57,191.14 L566.85,192.30 L567.13,193.47 L567.39,194.65 L567.65,195.82 L567.90,197.00 L568.13,198.19 L568.36,199.38 L568.57,200.57 L568.77,201.77 L568.97,202.96 L569.15,204.17 L569.32,205.38 L569.48,206.59 L569.63,207.80 L569.76,209.02 L569.89,210.25 L570.00,211.47 L570.11,212.71 L569.80,214.00 L571.20,276.90 L573.10,214.00 L573.33,212.84 L573.30,211.60 L573.29,210.37 L573.29,209.13 L573.30,207.90 L573.33,206.67 L573.37,205.45 L573.42,204.23 L573.48,203.01 L573.56,201.79 L573.64,200.57 L573.74,199.36 L573.86,198.15 L573.98,196.94 L574.11,195.74 L574.25,194.54 L574.41,193.34 L574.57,192.14 L574.74,190.94 L574.93,189.75 L575.12,188.56 L575.32,187.37 L575.53,186.18 L575.75,184.99 L575.98,183.81 L576.21,182.62 L576.45,181.44 L576.70,180.26 L576.96,179.09 L577.23,177.91 L577.50,176.74 L577.78,175.56 L578.06,174.39 L578.35,173.22 L578.65,172.05 L578.95,170.88 L579.26,169.72 L579.57,168.55 L579.89,167.39 L580.21,166.23 L580.54,165.06 L580.87,163.90 L581.20,162.74 L581.54,161.58 L581.88,160.42 L582.23,159.26 L582.57,158.11 L582.92,156.95 L583.28,155.79 L583.63,154.64 L583.99,153.48 L584.34,152.33 L584.70,151.17 L585.06,150.02 L585.42,148.87 L585.79,147.71 L586.15,146.56 L586.51,145.41 L586.87,144.25 L587.24,143.10 L587.60,141.95 L587.96,140.79 L588.32,139.64 L588.67,138.48 L589.03,137.33 L589.39,136.18 L589.74,135.02 L590.10,133.87 L590.45,132.71 L590.80,131.56 L591.15,130.40 L591.50,129.25 L591.85,128.09 L592.20,126.94 L592.55,125.78 L592.90,124.63 L593.25,123.47 L593.60,122.32 L593.95,121.16 L594.29,120.00 L594.64,118.85 L594.99,117.69 L595.34,116.54 L595.69,115.38 L596.04,114.23 L596.39,113.07 L596.74,111.92 L597.10,110.76 L597.45,109.61 L597.80,108.45 L598.16,107.30 L598.51,106.14 L598.87,104.99 L599.23,103.83 L599.59,102.68 L599.95,101.53 L600.31,100.37 L600.68,99.22 L601.04,98.06 L601.41,96.91 L601.78,95.76 L602.15,94.61 L602.52,93.45 L602.90,92.30 L603.28,91.15 L603.66,90.00 L604.04,88.85 L604.42,87.70 L604.81,86.55 L605.20,85.40 L605.59,84.25 L605.99,83.10 L606.39,81.95 L606.79,80.80 L607.19,79.65 L607.60,78.50 L608.01,77.36 L608.42,76.21 L608.84,75.06 L609.26,73.92 L609.68,72.77 L610.11,71.63 L610.54,70.48 L610.98,69.34 L611.42,68.19 L611.86,67.05 L612.31,65.91 L612.76,64.77 L613.22,63.63 L613.68,62.50 L614.15,61.36 L614.62,60.23 L615.10,59.11 L615.59,57.98 L616.08,56.86 L616.57,55.74 L617.08,54.63 L617.59,53.52 L618.11,52.42 L618.63,51.32 L619.16,50.23 L619.70,49.14 L620.25,48.06 L620.81,46.98 L621.37,45.91 L621.94,44.85 L622.52,43.79 L623.11,42.74 L623.71,41.70 L624.32,40.67 L624.94,39.64 L625.57,38.63 L626.21,37.62 L626.86,36.62 L627.52,35.63 L628.18,34.65 L628.87,33.68 L629.56,32.72 L630.26,31.77 L630.98,30.83 L631.70,29.90 L632.44,28.99 L633.19,28.08 L633.95,27.19 L634.73,26.31 L635.52,25.44 L636.32,24.59 L637.14,23.74 L637.97,22.91 L638.81,22.10 L639.66,21.30 L640.54,20.51 L641.42,19.74 L642.32,18.98 L643.23,18.23 L644.16,17.50 L645.10,16.79 L646.05,16.09 L647.02,15.40 L648.00,14.73 L648.99,14.08 L650.00,13.44 L651.02,12.81 L652.05,12.20 L653.09,11.61 L654.14,11.03 L655.21,10.46 L656.28,9.91 L657.37,9.38 L658.47,8.86 L659.58,8.36 L660.70,7.87 L661.83,7.40 L662.97,6.94 L664.12,6.50 L665.29,6.07 L666.46,5.67 L667.64,5.27 L668.83,4.90 L670.02,4.54 L671.23,4.19 L672.45,3.86 L673.67,3.55 L674.90,3.25 L676.15,2.97 L677.39,2.71 L678.65,2.46 L679.91,2.23 L681.19,2.02 L682.46,1.82 L683.75,1.64 L684.40,1.00" fill="none" stroke="#ff20ff" stroke-width="1.0" stroke-linejoin="round" stroke-linecap="butt"/>
</svg>
</body></html>
